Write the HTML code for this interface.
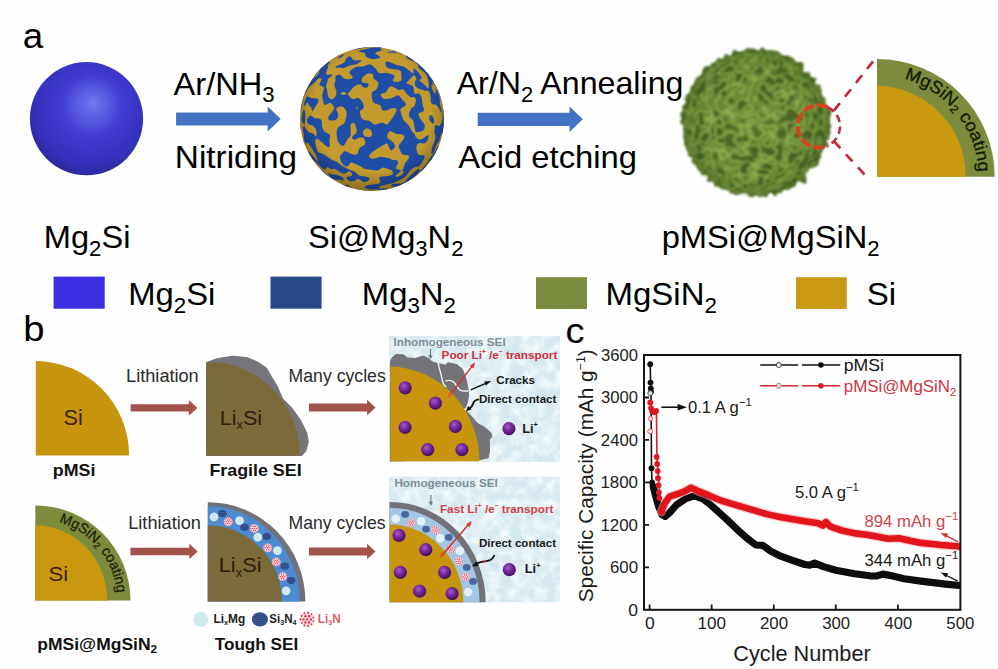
<!DOCTYPE html>
<html lang="en"><head><meta charset="utf-8"><title>pMSi@MgSiN2 figure</title>
<style>
html,body{margin:0;padding:0;background:#fff;}
body{width:998px;height:669px;overflow:hidden;}
svg{display:block;}
text{font-family:"Liberation Sans",sans-serif;}
</style></head><body>
<svg width="998" height="669" viewBox="0 0 998 669">
<rect width="998" height="669" fill="#fefefe"/>

<defs>
<radialGradient id="gBlue" cx="0.53" cy="0.42" r="0.6" fx="0.56" fy="0.36">
  <stop offset="0" stop-color="#7678ee"/>
  <stop offset="0.16" stop-color="#6163e6"/>
  <stop offset="0.45" stop-color="#413cd3"/>
  <stop offset="0.82" stop-color="#3431bd"/>
  <stop offset="1" stop-color="#2a2896"/>
</radialGradient>
<radialGradient id="gShade" cx="0.5" cy="0.45" r="0.55">
  <stop offset="0" stop-color="#000" stop-opacity="0"/>
  <stop offset="0.75" stop-color="#000" stop-opacity="0"/>
  <stop offset="1" stop-color="#000" stop-opacity="0.28"/>
</radialGradient>
<radialGradient id="gShadeG" gradientUnits="userSpaceOnUse" cx="0" cy="0" r="75">
  <stop offset="0" stop-color="#9fbf4a" stop-opacity="0.25"/>
  <stop offset="0.6" stop-color="#5d7a2a" stop-opacity="0"/>
  <stop offset="1" stop-color="#2a3f10" stop-opacity="0.35"/>
</radialGradient>
<radialGradient id="gLi" cx="0.4" cy="0.35" r="0.65">
  <stop offset="0" stop-color="#a45cc8"/>
  <stop offset="0.45" stop-color="#7a2aa0"/>
  <stop offset="1" stop-color="#43105f"/>
</radialGradient>
<filter id="fBlob" x="0" y="0" width="1" height="1" color-interpolation-filters="sRGB">
  <feTurbulence type="fractalNoise" baseFrequency="0.042" numOctaves="2" seed="11"/>
  <feColorMatrix type="matrix" values="1 0 0 0 0  1 0 0 0 0  1 0 0 0 0  0 0 0 0 1"/>
  <feComponentTransfer>
    <feFuncR type="discrete" tableValues="0.12 0.12 0.78 0.78"/>
    <feFuncG type="discrete" tableValues="0.31 0.31 0.60 0.60"/>
    <feFuncB type="discrete" tableValues="0.65 0.65 0.17 0.17"/>
  </feComponentTransfer>
  <feComposite in2="SourceGraphic" operator="in"/>
</filter>
<filter id="fGreen" x="-0.05" y="-0.05" width="1.1" height="1.1" color-interpolation-filters="sRGB">
  <feTurbulence type="turbulence" baseFrequency="0.085" numOctaves="2" seed="5" result="n"/>
  <feColorMatrix in="n" type="matrix" values="1 0 0 0 0  1 0 0 0 0  1 0 0 0 0  0 0 0 0 1"/>
  <feComponentTransfer result="c">
    <feFuncR type="table" tableValues="0.56 0.44 0.30 0.20 0.16"/>
    <feFuncG type="table" tableValues="0.68 0.57 0.42 0.30 0.24"/>
    <feFuncB type="table" tableValues="0.24 0.19 0.13 0.09 0.07"/>
  </feComponentTransfer>
  <feTurbulence type="fractalNoise" baseFrequency="0.16" numOctaves="2" seed="9" result="d"/>
  <feDisplacementMap in="SourceGraphic" in2="d" scale="7" xChannelSelector="R" yChannelSelector="G" result="shape"/>
  <feComposite in="c" in2="shape" operator="in"/>
</filter>
<filter id="fSoft" x="-0.05" y="-0.05" width="1.1" height="1.1"><feGaussianBlur stdDeviation="0.9"/></filter>
<filter id="fRough" x="-0.1" y="-0.1" width="1.2" height="1.2">
  <feTurbulence type="fractalNoise" baseFrequency="0.09" numOctaves="2" seed="4" result="d"/>
  <feDisplacementMap in="SourceGraphic" in2="d" scale="5" xChannelSelector="R" yChannelSelector="G"/>
</filter>
<filter id="fIce" x="0" y="0" width="1" height="1" color-interpolation-filters="sRGB">
  <feTurbulence type="fractalNoise" baseFrequency="0.09" numOctaves="3" seed="2"/>
  <feColorMatrix type="matrix" values="0 0 0 0 0.96  0 0 0 0 0.985  0 0 0 0 0.985  2.2 0 0 0 -0.78"/>
  <feComposite in2="SourceGraphic" operator="in"/>
</filter>
<pattern id="pRed" width="2.4" height="2.4" patternUnits="userSpaceOnUse">
  <rect width="2.4" height="2.4" fill="#fde9ec"/>
  <circle cx="0.6" cy="0.6" r="0.68" fill="#e0364e"/>
  <circle cx="1.8" cy="1.8" r="0.68" fill="#e0364e"/>
</pattern>
<pattern id="pNavy" width="2" height="1.8" patternUnits="userSpaceOnUse">
  <rect width="2" height="1.8" fill="#2a437c"/>
  <rect y="0.9" width="2" height="0.5" fill="#4f6fb0"/>
</pattern>
<g id="liN"><circle r="4.4" fill="#fdeaee"/><circle r="0.72" fill="#e0364e"/><circle cx="2.10" cy="0.00" r="0.72" fill="#e0364e"/><circle cx="1.05" cy="1.82" r="0.72" fill="#e0364e"/><circle cx="-1.05" cy="1.82" r="0.72" fill="#e0364e"/><circle cx="-2.10" cy="0.00" r="0.72" fill="#e0364e"/><circle cx="-1.05" cy="-1.82" r="0.72" fill="#e0364e"/><circle cx="1.05" cy="-1.82" r="0.72" fill="#e0364e"/><circle cx="3.60" cy="1.04" r="0.62" fill="#e2485c"/><circle cx="2.47" cy="2.82" r="0.62" fill="#e2485c"/><circle cx="0.55" cy="3.71" r="0.62" fill="#e2485c"/><circle cx="-1.54" cy="3.42" r="0.62" fill="#e2485c"/><circle cx="-3.14" cy="2.05" r="0.62" fill="#e2485c"/><circle cx="-3.75" cy="0.02" r="0.62" fill="#e2485c"/><circle cx="-3.17" cy="-2.01" r="0.62" fill="#e2485c"/><circle cx="-1.58" cy="-3.40" r="0.62" fill="#e2485c"/><circle cx="0.51" cy="-3.71" r="0.62" fill="#e2485c"/><circle cx="2.44" cy="-2.85" r="0.62" fill="#e2485c"/><circle cx="3.59" cy="-1.08" r="0.62" fill="#e2485c"/></g>
<clipPath id="clipS"><circle cx="0" cy="0" r="72"/></clipPath>
<clipPath id="clipB1"><rect x="389" y="336" width="171" height="126"/></clipPath>
<clipPath id="clipB2"><rect x="389" y="476.5" width="171" height="126"/></clipPath>
<clipPath id="clipPlot"><rect x="644" y="355" width="317" height="255"/></clipPath>
</defs>
<!-- ================= panel a ================= -->
<g id="panel-a">
<text transform="translate(22.74,47.50) scale(1.0364,1)" font-size="35.50" fill="#000">a</text>
<circle cx="86.5" cy="118.7" r="56.6" fill="url(#gBlue)"/>
<text transform="translate(173.54,94.50) scale(1.0379,1)" font-size="31.40" fill="#000">Ar/NH<tspan dy="7.85" font-size="21.35">3</tspan></text>
<polygon points="176.1,112.5 267.7,112.5 267.7,106.6 280.8,119.0 267.7,131.4 267.7,125.5 176.1,125.5" fill="#4472c4"/>
<text transform="translate(174.86,168.20) scale(1.0626,1)" font-size="31.40" fill="#000">Nitriding</text>
<circle cx="372" cy="119" r="72" fill="#c39a2e"/>
<path transform="translate(372,119)" clip-path="url(#clipS)" fill="#1f4ea6" fill-rule="evenodd" d="M-22.2 -68.5L-22.8 -68.5L-22.6 -69.0L-20.5 -69.8L-17.8 -69.7L-15.7 -70.2L-14.5 -71.2L-11.8 -71.8L-5.5 -72.5L-0.1 -72.5L-0.4 -72.0L-9.6 -71.2L-9.2 -71.0L-12.0 -70.2L-16.2 -69.4L-19.2 -69.4L-22.2 -68.5ZM3.0 -60.0L-1.0 -60.1L-4.6 -61.5L-6.4 -62.8L-6.8 -65.2L-7.5 -66.0L-13.9 -67.5L-12.6 -68.2L-10.0 -69.1L1.0 -71.4L6.4 -71.8L6.1 -72.2L8.0 -72.3L12.3 -71.5L12.5 -71.0L8.5 -71.2L8.2 -70.5L10.2 -68.7L5.8 -67.5L3.4 -66.2L3.3 -65.5L3.6 -65.0L7.6 -62.8L8.2 -61.8L7.1 -60.8L3.0 -60.0ZM31.2 -65.0L23.0 -67.9L19.8 -69.4L19.9 -69.8L20.5 -69.8L25.8 -68.0L31.0 -65.8L31.2 -65.0ZM24.5 -65.9L19.8 -66.5L17.2 -66.1L15.0 -67.2L18.5 -67.2L19.8 -67.8L21.5 -67.8L23.5 -67.1L24.6 -66.2L24.5 -65.9ZM11.8 71.8L11.5 71.2L11.8 71.0L9.2 71.1L6.5 70.5L0.5 70.5L-3.2 70.2L-6.3 69.2L-7.5 68.2L-5.8 66.7L-4.0 65.9L4.0 65.3L7.0 64.4L8.0 63.5L8.4 62.5L7.2 59.2L7.3 58.2L9.2 57.5L16.2 57.1L19.8 56.0L20.8 55.0L21.0 54.0L20.4 52.2L19.5 51.3L12.2 48.5L10.2 48.7L6.8 50.9L4.2 51.5L-7.0 50.0L-8.5 49.5L-11.1 47.5L-19.8 43.4L-21.5 43.8L-23.8 46.9L-25.5 47.6L-28.0 46.4L-30.6 43.5L-31.7 40.2L-32.1 37.5L-31.5 36.2L-28.5 33.0L-27.5 32.3L-26.5 32.2L-19.0 35.5L-17.0 35.8L-15.2 35.5L-14.2 34.5L-13.2 30.5L-12.4 29.0L-11.2 28.1L-8.0 26.6L-7.0 25.5L-6.7 24.5L-6.8 22.5L-7.8 19.7L-8.3 19.0L-9.2 18.5L-11.2 18.5L-13.2 18.8L-17.2 20.8L-18.5 20.5L-19.5 19.5L-19.9 18.2L-19.7 17.5L-16.2 14.6L-15.6 13.2L-15.2 11.2L-16.8 5.2L-17.8 4.2L-19.2 3.9L-20.8 4.5L-21.6 6.0L-21.2 14.8L-21.6 17.2L-24.5 20.3L-27.5 25.7L-28.5 26.7L-29.8 26.8L-31.8 25.5L-33.7 23.5L-34.5 21.5L-35.4 14.8L-35.1 11.2L-34.1 9.0L-33.0 7.6L-28.6 5.0L-27.0 3.2L-25.4 -4.0L-25.5 -7.2L-26.8 -10.0L-28.8 -12.1L-30.8 -12.7L-33.2 -12.2L-34.8 -11.2L-35.8 -10.0L-35.8 -9.2L-34.2 -6.0L-33.8 -4.2L-34.0 -2.0L-34.8 -0.5L-36.5 0.9L-39.0 1.6L-41.8 1.6L-43.3 0.8L-43.9 -1.0L-43.2 -3.0L-37.6 -10.2L-39.0 -13.8L-40.8 -15.8L-42.2 -15.9L-46.8 -14.1L-47.8 -14.5L-48.4 -15.2L-49.9 -23.0L-49.5 -25.2L-47.9 -31.0L-48.5 -32.0L-52.3 -33.8L-52.7 -34.5L-50.7 -39.0L-50.4 -40.0L-50.8 -40.8L-52.5 -40.9L-54.5 -39.9L-57.2 -36.4L-62.5 -32.2L-65.5 -28.0L-67.2 -24.6L-68.5 -21.0L-71.5 -7.0L-71.8 -7.5L-72.2 -7.3L-71.8 -11.8L-70.3 -18.8L-67.0 -28.2L-66.0 -30.3L-65.5 -30.1L-65.2 -30.5L-59.2 -40.2L-54.8 -43.8L-52.6 -46.8L-52.0 -48.4L-54.0 -46.9L-57.5 -42.8L-57.3 -44.8L-53.3 -49.5L-50.0 -52.8L-44.5 -57.5L-34.5 -64.0L-29.8 -66.3L-29.8 -65.5L-37.0 -61.9L-42.5 -58.0L-43.0 -57.5L-42.0 -57.1L-42.0 -56.8L-44.5 -53.2L-44.0 -52.3L-44.0 -51.5L-45.9 -46.8L-46.0 -45.0L-44.8 -44.3L-40.8 -44.5L-39.7 -44.0L-40.1 -43.2L-42.5 -41.5L-44.1 -39.8L-46.0 -32.2L-44.9 -29.2L-44.1 -23.0L-42.8 -21.0L-41.1 -19.8L-39.8 -19.7L-37.8 -21.1L-36.2 -23.2L-35.6 -25.0L-35.8 -28.8L-37.9 -33.8L-36.4 -38.8L-36.7 -41.8L-36.4 -43.0L-34.6 -44.0L-32.5 -44.3L-31.5 -44.0L-28.5 -40.9L-26.5 -40.0L-23.5 -39.7L-20.7 -40.2L-19.6 -41.0L-19.2 -42.0L-19.6 -42.8L-22.0 -44.9L-22.4 -45.8L-22.4 -47.0L-21.6 -48.2L-19.5 -50.0L-17.2 -51.4L-15.2 -52.2L-8.2 -52.4L-4.0 -54.5L-2.0 -54.7L0.0 -53.7L2.0 -52.0L3.9 -50.0L6.0 -46.8L7.0 -46.1L9.2 -45.7L14.2 -46.2L19.5 -44.9L21.8 -43.9L22.5 -42.8L22.4 -41.8L20.7 -38.8L21.5 -37.5L24.5 -36.9L26.5 -37.3L29.0 -38.2L29.6 -39.5L29.2 -46.2L28.8 -47.6L27.8 -48.5L26.2 -49.2L19.5 -50.0L15.2 -51.2L13.9 -53.0L13.2 -55.5L13.7 -57.0L15.2 -57.6L17.5 -57.1L24.5 -53.9L30.5 -52.8L32.5 -52.1L41.2 -45.6L41.6 -46.5L41.4 -50.2L42.0 -50.4L43.0 -49.9L46.6 -46.5L49.6 -41.5L49.8 -40.5L49.5 -39.9L47.2 -39.3L47.2 -38.8L52.8 -34.0L55.8 -30.8L56.5 -30.6L56.9 -32.0L56.8 -36.0L55.4 -42.0L54.5 -44.0L52.0 -46.9L46.6 -51.0L46.0 -52.2L46.3 -53.8L45.0 -55.2L42.0 -57.6L37.8 -59.2L35.5 -60.5L34.2 -61.8L33.7 -62.8L35.5 -62.5L33.1 -64.0L33.5 -64.2L34.5 -64.0L38.8 -61.5L40.5 -60.2L41.2 -59.0L44.0 -56.9L47.2 -55.3L55.3 -47.2L61.5 -38.8L62.5 -37.0L62.2 -36.2L64.5 -32.0L65.3 -32.0L68.0 -25.8L69.8 -20.5L71.8 -11.8L72.5 -5.5L72.5 -1.5L72.0 -3.2L71.9 -5.8L71.6 -6.0L70.7 -14.2L69.1 -20.2L65.2 -29.7L63.1 -33.8L60.8 -37.1L60.5 -37.3L60.3 -37.0L60.8 -34.0L59.5 -33.4L59.5 -32.0L60.8 -28.5L62.2 -25.9L63.0 -25.4L63.5 -25.8L63.8 -29.5L65.0 -28.2L66.5 -25.0L67.8 -20.5L67.7 -16.5L68.0 -14.2L69.6 -9.2L69.6 -7.2L69.2 -6.3L68.5 -7.0L66.8 -11.2L65.0 -13.5L63.5 -14.4L60.5 -14.8L59.1 -16.2L58.7 -18.0L58.5 -23.5L57.8 -26.0L56.8 -27.8L56.0 -28.2L53.0 -28.2L47.0 -30.2L45.2 -31.2L43.5 -32.8L42.9 -34.2L42.9 -36.2L43.4 -38.5L44.6 -40.2L43.5 -42.2L41.8 -44.4L41.1 -43.0L38.8 -41.1L34.9 -36.8L34.4 -35.8L38.9 -34.0L41.1 -32.5L41.6 -31.2L42.0 -27.2L42.9 -25.2L43.8 -25.0L46.2 -25.8L47.5 -25.1L48.6 -23.8L49.8 -21.0L50.4 -15.2L51.9 -10.2L52.0 -9.0L51.5 -7.7L50.2 -6.9L47.2 -6.1L46.6 -5.2L46.5 -4.2L47.7 -1.0L52.6 5.5L52.9 7.2L52.5 9.2L51.5 11.1L50.0 12.3L44.5 13.3L43.3 12.5L41.4 2.0L40.6 0.8L37.6 -1.8L36.9 -4.0L37.3 -6.5L38.8 -9.7L39.5 -10.9L42.0 -12.2L43.0 -13.9L44.0 -18.2L43.6 -20.2L42.8 -21.6L42.0 -22.0L39.0 -21.7L37.8 -22.2L35.3 -24.5L31.5 -29.5L30.5 -29.7L27.5 -29.0L26.5 -29.1L21.5 -31.9L19.2 -32.6L18.2 -32.5L17.2 -32.0L14.2 -26.9L12.2 -26.0L9.6 -25.5L8.8 -24.8L8.7 -23.5L10.0 -21.5L11.4 -20.5L13.2 -20.0L18.5 -20.4L25.5 -23.7L26.5 -23.6L27.5 -22.9L30.4 -19.2L33.2 -16.5L34.0 -15.2L34.0 -14.2L33.2 -13.2L29.3 -10.8L28.2 -9.2L28.3 -8.2L31.0 0.2L32.0 1.8L36.8 6.5L40.2 12.8L42.3 14.8L43.7 18.0L46.0 20.1L48.0 20.7L50.0 20.0L55.5 16.3L56.5 16.2L56.8 17.1L55.6 21.2L53.8 23.8L52.2 24.4L47.2 24.1L45.8 25.0L44.5 26.8L44.4 29.5L45.8 35.3L47.0 36.1L51.5 36.2L52.6 37.2L52.5 38.5L51.7 40.8L48.2 46.1L46.5 47.6L43.0 48.1L40.3 49.8L38.4 51.5L33.9 57.0L30.5 59.8L21.2 63.9L9.5 66.8L7.1 68.0L7.0 69.0L8.5 69.7L13.5 69.5L16.2 69.8L19.8 69.2L20.9 69.5L16.8 70.8L11.8 71.8ZM-34.5 -60.5L-34.5 -61.0L-32.7 -62.5L-30.2 -63.9L-28.0 -64.7L-28.6 -63.5L-30.0 -62.2L-31.9 -61.2L-34.5 -60.5ZM-28.0 -50.9L-29.5 -50.8L-32.8 -51.4L-36.0 -51.1L-36.6 -51.5L-36.3 -52.2L-35.0 -53.2L-30.5 -55.0L-28.3 -56.2L-27.0 -57.6L-25.7 -60.8L-24.5 -61.7L-23.0 -62.4L-21.9 -62.5L-21.0 -62.2L-19.3 -59.5L-18.0 -58.8L-15.2 -58.6L-11.2 -58.9L-10.4 -58.5L-11.6 -57.2L-15.5 -54.8L-22.5 -53.4L-28.0 -50.9ZM15.4 5.5L20.8 -1.6L24.1 -7.2L24.7 -9.2L23.5 -10.7L21.5 -11.1L19.5 -10.7L14.5 -8.5L11.2 -8.6L9.9 -9.5L9.0 -12.5L8.2 -13.8L7.2 -14.3L3.0 -15.5L1.4 -16.8L0.6 -18.2L-0.0 -20.8L-0.5 -24.2L-0.3 -26.0L0.7 -27.5L3.9 -29.0L4.8 -29.9L6.1 -33.5L6.4 -35.8L5.2 -37.8L1.4 -40.5L1.3 -44.0L0.7 -45.0L-2.0 -45.8L-4.9 -45.2L-6.8 -44.1L-9.4 -41.5L-10.2 -40.0L-10.4 -38.8L-10.1 -37.2L-9.5 -36.4L-4.0 -35.7L-3.5 -34.8L-3.5 -33.8L-4.2 -32.1L-5.2 -31.4L-7.2 -31.2L-9.0 -32.1L-11.2 -34.6L-13.2 -34.6L-15.2 -34.1L-18.5 -31.9L-22.5 -27.1L-24.3 -25.5L-24.1 -24.5L-21.5 -21.5L-19.5 -20.0L-18.2 -19.8L-15.2 -21.0L-13.5 -20.9L-11.8 -20.0L-10.2 -18.1L-8.2 -13.3L-8.2 -11.4L-9.2 -10.0L-11.7 -8.2L-12.1 -7.0L-11.1 -2.0L-9.8 0.1L-7.2 1.2L-2.6 1.8L1.0 4.8L2.2 5.4L4.0 5.4L9.2 3.8L11.2 4.1L14.2 5.5L15.4 5.5ZM-27.4 -24.2L-25.3 -25.5L-26.8 -26.5L-28.5 -26.9L-30.4 -26.5L-31.2 -25.5L-30.9 -24.5L-30.2 -24.2L-27.4 -24.2ZM-59.5 -7.7L-60.1 -8.2L-60.6 -11.2L-62.7 -13.2L-64.2 -16.4L-65.5 -16.0L-67.5 -13.0L-68.0 -12.8L-68.1 -15.0L-67.2 -18.1L-66.0 -21.3L-64.8 -22.8L-60.8 -21.0L-55.0 -20.4L-54.1 -20.0L-53.5 -19.2L-53.7 -17.5L-54.7 -15.2L-59.5 -7.7ZM-14.2 -10.0L-14.2 -11.3L-15.5 -12.4L-15.8 -11.2L-15.4 -10.2L-14.2 -10.0ZM-67.5 5.8L-67.8 5.9L-69.8 3.1L-70.4 0.0L-69.8 -5.4L-68.8 -8.5L-68.0 -9.7L-67.1 -8.0L-66.7 -5.2L-66.8 2.0L-67.5 5.8ZM60.2 34.8L59.5 34.8L59.3 34.2L59.7 30.0L62.8 21.5L63.4 18.5L63.3 16.8L62.3 13.2L63.0 7.6L63.5 6.3L64.0 5.9L64.8 6.0L66.5 7.2L67.5 7.1L70.0 3.0L70.5 0.5L70.6 -7.0L71.0 -7.9L71.8 -0.2L71.8 5.4L72.5 2.6L72.3 8.0L71.3 14.5L71.0 15.5L70.5 15.4L70.5 12.6L69.6 14.2L67.2 21.8L64.5 25.5L62.1 32.0L60.9 34.2L60.2 34.8ZM61.2 4.5L60.5 4.5L59.8 4.1L57.4 1.0L57.1 -2.0L57.7 -3.2L58.5 -3.9L59.5 -3.8L60.5 -3.0L61.9 0.0L62.2 3.0L61.9 4.0L61.2 4.5ZM-6.8 63.0L-9.2 62.7L-12.2 60.6L-14.2 59.9L-15.2 60.1L-16.7 61.5L-18.0 62.1L-20.5 62.4L-22.5 62.2L-24.7 60.5L-25.7 58.5L-25.0 57.8L-21.3 57.2L-20.0 56.5L-19.9 54.8L-21.5 52.7L-22.5 52.3L-23.5 52.5L-26.8 54.6L-28.5 54.7L-30.5 53.9L-36.8 50.1L-38.0 49.7L-39.8 50.3L-40.8 50.3L-44.8 47.9L-46.4 50.2L-47.8 50.5L-50.2 49.0L-55.1 43.8L-59.0 40.9L-62.9 35.2L-63.8 32.8L-63.8 31.6L-54.8 41.9L-54.2 42.3L-53.9 42.0L-56.4 35.5L-61.8 26.5L-64.5 23.6L-65.0 23.6L-66.0 25.1L-67.0 23.6L-68.0 20.2L-68.2 15.2L-69.4 9.2L-69.2 7.8L-68.2 7.4L-67.8 6.8L-65.6 10.8L-63.7 12.8L-62.2 13.6L-59.0 14.6L-56.0 17.5L-55.5 17.0L-55.3 13.2L-55.8 11.1L-56.6 9.2L-59.5 6.4L-63.4 5.2L-64.8 3.2L-65.0 2.0L-64.7 0.0L-63.0 -2.6L-61.2 -3.6L-60.5 -3.6L-59.0 -1.9L-57.8 -1.1L-53.0 -0.4L-51.0 0.5L-50.2 2.0L-50.1 7.0L-48.9 10.5L-47.1 12.8L-42.8 15.2L-41.9 16.5L-41.8 18.2L-42.5 21.2L-42.2 26.5L-42.5 27.8L-43.2 28.2L-44.8 27.8L-46.0 27.0L-49.8 23.5L-55.0 19.5L-55.5 19.4L-55.9 19.8L-56.7 22.2L-56.7 24.5L-54.2 33.0L-53.2 33.6L-50.0 34.4L-47.8 35.5L-40.8 40.4L-34.8 43.1L-29.8 47.0L-25.8 49.0L-22.2 51.1L-19.2 51.8L-17.5 52.5L-14.6 55.2L-12.8 56.5L-11.2 57.0L-6.0 57.5L-3.0 58.8L-2.5 60.0L-3.2 61.2L-5.0 62.5L-6.8 63.0ZM-71.5 12.8L-72.5 5.5L-72.5 3.1L-72.0 3.0L-70.9 11.8L-71.0 12.6L-71.5 12.8ZM-2.2 18.0L-1.0 17.6L-0.1 16.2L0.0 14.2L-0.8 11.8L-2.0 10.5L-4.0 9.6L-6.0 9.6L-7.2 10.1L-8.4 11.2L-9.0 13.2L-8.8 15.1L-8.0 16.8L-6.2 17.8L-2.2 18.0ZM26.0 57.8L29.5 56.1L31.6 54.0L31.6 53.0L30.1 51.5L31.8 48.9L33.1 44.0L36.5 39.8L37.1 37.5L36.8 36.8L36.0 36.3L32.2 35.9L30.2 35.2L29.4 34.2L26.6 28.0L26.7 26.8L27.2 25.8L32.1 19.2L32.5 18.0L32.1 16.8L30.2 15.6L23.8 14.7L19.5 12.4L18.2 12.1L17.2 12.5L16.2 13.9L15.3 16.0L15.2 18.0L16.2 19.8L19.5 21.7L22.7 25.5L23.2 27.5L22.0 29.5L20.2 31.1L19.5 31.3L18.5 30.9L17.5 29.5L15.5 24.8L14.2 24.4L8.2 27.7L0.3 33.0L-2.3 35.8L-2.9 36.8L-3.0 37.8L-1.9 39.0L1.0 39.8L3.0 39.6L7.2 37.9L9.2 37.7L17.2 39.2L21.0 40.9L24.2 41.0L25.2 41.4L25.9 42.5L26.0 44.0L24.0 49.0L25.0 50.0L28.1 51.2L29.0 52.0L24.6 55.5L23.8 56.5L23.7 57.2L24.2 57.8L26.0 57.8ZM-67.5 27.0L-69.8 20.5L-69.8 19.6L-69.0 20.2L-68.4 22.0L-67.2 25.8L-67.5 27.0ZM48.2 52.8L48.7 51.8L54.0 45.2L60.8 35.2L63.0 32.5L67.0 25.4L66.0 29.0L66.0 30.5L63.0 36.2L59.5 41.8L58.8 42.5L58.2 41.3L58.0 41.6L52.5 48.9L49.8 51.8L48.2 52.8ZM-40.2 60.0L-41.0 59.9L-42.5 59.0L-49.5 53.3L-50.0 52.7L-49.5 52.5L-51.0 50.2L-51.0 49.8L-45.7 55.2L-40.2 60.0ZM25.8 68.0L25.3 68.0L24.9 67.5L23.0 67.8L19.4 67.2L18.9 66.8L20.0 65.5L21.5 64.7L28.8 64.6L31.8 63.8L33.5 62.3L37.2 57.7L42.8 52.5L46.0 50.1L47.0 49.9L47.9 50.2L47.8 51.2L47.0 52.8L43.8 56.8L41.7 58.8L42.2 59.0L41.8 59.5L34.5 64.0L25.8 68.0ZM-29.0 61.5L-34.2 60.4L-36.0 61.1L-38.5 60.1L-40.8 58.9L-41.8 57.9L-43.4 55.8L-43.8 54.5L-43.2 54.3L-39.8 55.4L-35.8 55.8L-31.2 57.2L-29.5 58.2L-28.7 59.2L-28.1 61.0L-29.0 61.5ZM-33.5 64.0L-36.2 63.0L-38.1 61.8L-38.6 61.0L-33.5 64.0ZM-20.2 69.8L-28.2 67.0L-32.0 65.3L-32.0 64.5L-29.8 65.6L-26.8 66.5L-26.5 65.7L-24.0 65.7L-23.3 66.2L-23.3 67.5L-18.9 69.2L-20.2 69.8ZM-18.2 69.5L-18.9 69.5L-18.2 69.5ZM3.8 72.5L-5.5 72.6L-10.0 72.1L-14.5 71.3L-17.2 69.8L-3.5 71.8L2.9 72.0L3.8 72.5Z"/>
<circle cx="372" cy="119" r="72" fill="url(#gShade)"/>
<text transform="translate(456.64,94.40) scale(1.0249,1)" font-size="31.40" fill="#000">Ar/N<tspan dy="7.85" font-size="21.35">2</tspan><tspan dy="-7.85"> Annealing</tspan></text>
<polygon points="477.7,112.7 569.5,112.7 569.5,106.6 582.8,119.3 569.5,132.0 569.5,125.9 477.7,125.9" fill="#4472c4"/>
<text transform="translate(458.34,167.80) scale(1.0451,1)" font-size="31.40" fill="#000">Acid etching</text>
<g transform="translate(755.4,122.7)" filter="url(#fSoft)">
<path fill="#6a8a38" d="M74.2 0.0L75.7 2.2L75.6 4.3L74.8 6.4L74.8 8.6L75.4 10.8L73.6 12.7L74.4 15.1L72.9 17.0L70.5 18.5L73.0 21.4L73.3 23.8L69.2 24.7L67.5 26.3L67.2 28.4L66.2 30.2L65.2 32.0L66.1 34.9L64.3 36.3L63.5 38.3L63.7 40.9L62.3 42.6L60.5 44.0L58.2 44.9L55.7 45.6L53.5 46.3L52.7 48.3L51.1 49.6L49.5 50.9L51.0 55.5L51.2 59.1L50.1 61.3L45.7 59.2L42.4 58.3L41.1 60.2L40.5 63.0L38.8 64.4L36.6 64.8L35.0 66.4L32.9 67.0L30.8 67.3L28.3 67.1L26.9 69.1L25.1 70.5L22.8 70.2L21.2 72.0L19.4 73.7L16.4 70.3L14.1 69.6L12.6 72.7L10.8 74.9L8.4 73.5L6.3 73.7L4.3 74.5L2.1 73.2L0.0 72.9L-2.1 74.4L-4.2 74.3L-6.4 74.4L-8.1 70.4L-10.0 69.6L-12.3 70.9L-14.4 71.2L-16.7 71.8L-19.1 72.6L-21.1 71.9L-23.0 70.6L-25.4 71.1L-26.4 67.9L-28.6 67.6L-30.4 66.6L-32.8 66.7L-34.9 66.1L-36.3 64.2L-38.5 63.9L-41.0 63.8L-41.6 60.9L-42.7 58.8L-45.6 59.1L-48.3 59.0L-48.0 55.4L-47.9 52.2L-51.4 52.9L-53.8 52.2L-54.8 50.3L-55.8 48.3L-57.7 47.2L-58.4 45.0L-59.4 43.2L-61.0 41.7L-62.8 40.3L-64.0 38.6L-63.0 35.6L-64.9 34.2L-67.3 33.1L-67.4 30.8L-67.9 28.7L-69.3 27.0L-69.4 24.8L-70.9 23.1L-71.2 20.9L-71.5 18.8L-71.2 16.6L-72.3 14.6L-71.5 12.4L-70.9 10.2L-71.5 8.2L-72.6 6.2L-71.6 4.1L-72.9 2.1L-75.5 0.0L-74.8 -2.1L-73.7 -4.2L-74.9 -6.4L-75.2 -8.6L-74.0 -10.6L-72.5 -12.5L-73.3 -14.8L-72.8 -16.9L-70.8 -18.6L-69.0 -20.3L-71.0 -23.1L-70.1 -25.0L-69.7 -27.1L-67.8 -28.7L-66.0 -30.1L-65.2 -32.1L-65.0 -34.3L-64.5 -36.4L-62.0 -37.4L-61.8 -39.7L-60.6 -41.4L-59.8 -43.5L-59.0 -45.5L-56.3 -46.0L-54.9 -47.6L-53.5 -49.1L-53.1 -51.6L-52.4 -53.9L-51.1 -55.7L-49.2 -56.7L-46.0 -56.3L-44.8 -58.1L-43.2 -59.5L-41.6 -60.8L-39.4 -61.3L-38.6 -64.0L-36.7 -65.0L-33.6 -63.7L-31.9 -64.8L-31.0 -67.9L-29.0 -68.7L-26.1 -67.0L-24.0 -67.2L-23.0 -70.8L-21.4 -73.1L-18.9 -71.9L-16.4 -70.7L-14.5 -71.4L-12.4 -71.5L-10.5 -73.3L-8.5 -74.5L-6.4 -74.7L-4.3 -74.3L-2.1 -74.1L-0.0 -73.8L2.1 -72.3L4.2 -72.9L6.5 -75.6L8.5 -74.1L10.5 -72.8L12.5 -72.3L14.8 -73.0L16.8 -72.2L19.0 -72.1L21.0 -71.6L23.1 -71.1L24.8 -69.5L26.5 -68.1L28.3 -67.0L30.7 -67.2L32.9 -67.0L35.0 -66.3L36.7 -64.9L38.6 -64.1L39.7 -61.8L41.3 -60.4L44.0 -60.6L46.7 -60.6L48.2 -58.9L48.2 -55.6L47.6 -51.8L49.1 -50.5L52.2 -50.7L54.7 -50.2L54.9 -47.5L54.8 -44.8L58.5 -45.1L61.3 -44.5L59.7 -40.8L59.9 -38.5L63.6 -38.3L65.3 -36.9L65.3 -34.5L66.5 -32.7L66.0 -30.2L66.7 -28.2L67.2 -26.2L69.9 -24.9L69.9 -22.7L70.1 -20.6L70.8 -18.6L71.1 -16.5L73.9 -15.0L75.2 -13.0L76.6 -11.0L75.4 -8.6L75.3 -6.5L74.2 -4.2L75.0 -2.1Z"/>
<path fill="#456427" fill-rule="evenodd" d="M-5.5 -72.5L-7.2 -72.5L-5.5 -72.5ZM3.5 -69.4L-7.5 -70.5L-4.7 -71.5L1.0 -71.3L3.7 -70.5L4.0 -70.0L3.5 -69.4ZM10.0 -69.4L7.0 -70.0L6.8 -71.0L9.8 -70.5L10.3 -70.0L10.0 -69.4ZM-24.5 -66.5L-24.6 -67.0L-21.3 -68.5L-15.5 -70.0L-12.5 -70.0L-12.5 -69.5L-13.7 -69.0L-24.5 -66.5ZM18.5 -68.2L16.2 -68.5L16.0 -69.0L18.5 -69.0L18.9 -68.5L18.5 -68.2ZM-23.5 -68.4L-24.5 -68.1L-24.7 -68.5L-23.5 -68.4ZM-25.0 -67.9L-26.0 -67.5L-26.2 -68.0L-25.0 -67.9ZM-13.0 -65.4L-16.0 -65.0L-16.8 -65.5L-13.5 -66.5L-12.0 -66.0L-13.0 -65.4ZM33.5 -62.9L27.5 -64.7L25.9 -66.0L27.5 -66.7L29.2 -66.5L32.8 -64.5L33.5 -62.9ZM-29.5 -62.9L-31.5 -62.6L-31.6 -63.0L-27.9 -64.0L-29.5 -62.9ZM24.5 -48.8L21.0 -49.0L20.1 -50.5L20.8 -51.5L22.5 -52.4L24.8 -56.5L24.6 -60.5L22.5 -63.1L25.4 -62.0L27.0 -60.0L27.3 -59.0L25.7 -56.0L31.0 -52.5L31.8 -51.5L31.0 -49.6L26.0 -50.8L25.1 -50.5L24.5 -48.8ZM-35.5 -60.5L-35.7 -61.0L-34.4 -62.0L-31.5 -62.5L-35.5 -60.5ZM-20.0 -61.0L-22.4 -61.0L-20.8 -62.5L-17.1 -62.5L-20.0 -61.0ZM20.5 -57.3L19.0 -57.6L18.0 -58.5L16.8 -60.5L17.0 -61.8L19.5 -62.0L21.5 -60.8L21.9 -59.0L21.5 -57.9L20.5 -57.3ZM33.0 -60.6L31.5 -60.9L30.4 -62.0L32.6 -61.5L33.0 -60.6ZM14.0 -59.3L11.5 -60.0L10.7 -61.5L12.0 -61.8L13.5 -61.2L14.4 -60.0L14.0 -59.3ZM-34.0 -55.9L-34.5 -55.8L-34.6 -56.5L-33.5 -57.7L-26.2 -61.0L-26.1 -60.0L-27.0 -59.1L-34.0 -55.9ZM-19.0 -57.8L-20.5 -57.8L-20.6 -58.5L-18.5 -59.1L-18.4 -58.5L-19.0 -57.8ZM-41.5 -57.3L-42.1 -57.5L-40.5 -58.9L-40.2 -58.5L-41.5 -57.3ZM43.0 -56.8L41.0 -56.9L39.1 -58.5L40.7 -58.5L42.7 -57.5L43.0 -56.8ZM-53.0 -49.1L-53.0 -50.0L-50.0 -53.2L-46.5 -56.1L-44.9 -56.5L-45.7 -55.0L-49.0 -51.7L-52.0 -50.3L-53.0 -49.1ZM-29.5 -50.4L-31.5 -50.5L-32.0 -51.0L-26.5 -56.2L-24.5 -56.7L-22.3 -55.0L-22.0 -53.0L-22.9 -52.0L-29.5 -50.4ZM-3.0 -53.9L-4.5 -54.4L-4.0 -55.6L-3.0 -55.7L-1.8 -55.0L-2.0 -54.3L-3.0 -53.9ZM5.0 -48.9L1.0 -48.9L-1.0 -49.6L-1.5 -50.5L-1.0 -51.2L2.5 -52.5L4.0 -55.8L6.1 -55.5L7.5 -54.0L6.8 -50.0L5.0 -48.9ZM-40.5 -50.5L-41.2 -51.0L-40.4 -52.0L-37.0 -54.0L-36.1 -54.0L-37.5 -52.0L-40.5 -50.5ZM47.5 -52.7L45.6 -53.5L46.0 -53.9L47.0 -53.5L47.8 -53.0L47.5 -52.7ZM19.5 -47.4L18.5 -47.5L17.6 -48.5L17.1 -51.0L17.5 -52.0L19.0 -52.0L19.4 -51.0L18.4 -50.0L20.0 -48.6L19.5 -47.4ZM52.0 -43.9L46.8 -46.0L45.0 -48.4L45.0 -50.2L51.0 -46.1L52.0 -43.9ZM52.5 -46.5L49.3 -49.5L51.0 -49.1L52.4 -48.0L53.0 -47.0L52.5 -46.5ZM-56.5 -45.3L-56.7 -46.0L-53.1 -49.0L-56.5 -45.3ZM-17.5 -41.4L-19.0 -41.4L-19.9 -42.5L-18.8 -48.0L-17.0 -48.9L-13.7 -48.5L-13.2 -47.5L-13.8 -46.0L-15.5 -43.0L-17.5 -41.4ZM39.5 -41.2L34.5 -41.8L29.1 -45.5L27.9 -47.0L31.0 -48.9L34.5 -47.6L37.8 -45.0L39.5 -41.2ZM41.5 -47.3L40.1 -48.0L40.5 -48.9L41.8 -48.0L41.5 -47.3ZM-53.0 -45.0L-53.7 -45.0L-53.3 -46.0L-51.0 -47.4L-51.0 -46.5L-53.0 -45.0ZM-37.0 -38.9L-38.0 -38.6L-40.0 -39.6L-42.7 -40.0L-41.3 -43.0L-41.8 -45.0L-40.0 -47.0L-37.0 -47.2L-34.6 -46.5L-38.0 -44.8L-40.0 -43.0L-39.4 -41.5L-36.5 -40.7L-37.0 -38.9ZM58.0 -39.6L55.0 -42.4L54.1 -46.5L54.5 -46.9L58.2 -44.0L58.0 -39.6ZM18.5 -38.0L15.5 -37.7L11.5 -40.7L7.6 -42.0L11.1 -42.5L11.8 -43.5L11.9 -45.5L13.0 -46.1L19.5 -41.6L20.5 -41.8L21.9 -44.0L23.5 -45.0L25.5 -44.7L28.0 -42.5L28.3 -41.0L27.5 -39.5L25.5 -39.2L21.0 -40.5L18.5 -38.0ZM-10.5 -40.4L-11.5 -40.4L-12.0 -41.0L-11.9 -43.0L-11.2 -45.0L-10.0 -45.6L-9.1 -45.0L-9.2 -42.0L-9.4 -41.0L-10.5 -40.4ZM44.0 -42.0L43.2 -42.5L43.5 -43.3L44.4 -43.0L44.0 -42.0ZM-57.0 -26.4L-58.0 -26.3L-59.6 -28.0L-59.6 -31.0L-56.6 -34.5L-53.0 -40.3L-50.5 -42.5L-50.0 -42.0L-50.0 -36.5L-51.0 -31.9L-52.0 -30.9L-54.7 -30.0L-57.0 -26.4ZM-39.5 -28.0L-41.0 -28.2L-41.4 -29.0L-41.0 -35.1L-40.0 -35.7L-36.5 -35.6L-32.5 -40.7L-30.5 -40.9L-29.4 -39.5L-30.5 -36.0L-32.0 -34.7L-35.5 -33.3L-37.5 -29.5L-39.5 -28.0ZM43.0 -39.0L41.0 -40.0L40.7 -41.0L43.0 -40.9L43.0 -39.0ZM54.0 -32.5L51.0 -35.1L47.5 -36.3L46.9 -37.5L47.3 -39.0L50.5 -40.4L52.0 -39.6L53.7 -36.0L54.0 -32.5ZM-63.5 -32.8L-63.0 -36.3L-60.8 -38.5L-63.5 -32.8ZM17.5 -22.8L12.3 -26.5L9.9 -29.5L5.1 -32.5L4.7 -34.5L6.1 -37.5L8.0 -38.1L10.0 -37.2L12.0 -30.8L15.5 -29.7L16.5 -28.9L18.0 -24.5L18.1 -23.5L17.5 -22.8ZM42.0 -34.0L38.0 -34.5L37.3 -35.5L37.5 -37.2L39.0 -37.5L41.5 -36.0L42.7 -34.5L42.0 -34.0ZM-62.5 -30.4L-62.0 -33.3L-60.0 -37.1L-59.7 -36.5L-60.7 -32.5L-62.5 -30.4ZM23.0 -32.8L21.5 -32.5L20.2 -33.5L20.9 -34.5L23.5 -35.8L24.2 -35.0L23.0 -32.8ZM-30.5 -26.4L-31.5 -26.6L-33.7 -28.5L-33.4 -30.5L-31.5 -31.6L-29.5 -31.0L-28.6 -29.5L-29.5 -27.4L-30.5 -26.4ZM61.0 -18.0L60.0 -18.8L58.9 -21.5L59.0 -27.5L57.7 -30.0L58.0 -31.1L59.0 -29.9L59.5 -27.5L62.0 -23.0L62.0 -19.5L61.0 -18.0ZM12.5 -18.3L10.5 -18.4L7.9 -21.0L4.0 -22.1L2.5 -27.5L2.9 -29.0L5.0 -29.2L7.0 -27.9L8.6 -23.5L12.0 -21.7L12.9 -20.5L13.1 -19.0L12.5 -18.3ZM22.5 -26.7L21.5 -27.0L21.5 -27.7L22.9 -27.5L22.5 -26.7ZM41.5 -26.4L40.0 -26.5L41.0 -27.3L41.5 -26.4ZM34.0 -18.0L32.0 -18.2L31.4 -19.5L32.5 -21.1L34.3 -22.0L34.6 -26.0L36.5 -26.7L38.9 -26.0L39.3 -25.5L38.3 -23.5L35.5 -21.5L35.0 -18.5L34.0 -18.0ZM50.0 -23.8L48.8 -25.5L49.0 -26.9L50.0 -26.9L50.8 -25.5L50.8 -24.5L50.0 -23.8ZM-69.5 -13.9L-70.0 -14.0L-70.2 -15.0L-69.5 -17.9L-66.5 -24.5L-65.5 -25.3L-65.2 -23.5L-66.4 -17.5L-68.0 -14.3L-69.5 -13.9ZM56.0 -19.9L55.0 -20.3L54.0 -21.8L53.6 -24.0L54.0 -25.5L55.0 -25.2L56.3 -23.5L56.7 -21.5L56.0 -19.9ZM-57.0 -21.5L-57.5 -23.0L-57.0 -24.2L-56.5 -24.2L-55.7 -23.5L-55.7 -22.5L-57.0 -21.5ZM-23.0 -19.0L-25.5 -19.4L-26.7 -20.5L-26.8 -22.5L-25.5 -24.1L-24.5 -24.2L-20.7 -22.5L-21.4 -20.0L-23.0 -19.0ZM27.5 -20.5L25.5 -20.2L24.5 -20.8L23.9 -22.5L24.5 -23.5L26.5 -24.2L28.0 -23.5L28.5 -22.3L27.5 -20.5ZM-59.5 -16.5L-61.0 -16.3L-63.1 -17.5L-62.4 -21.5L-61.0 -23.7L-60.0 -23.0L-59.5 -16.5ZM69.0 -20.9L68.5 -23.7L69.4 -21.5L69.0 -20.9ZM-15.0 -12.7L-16.0 -12.8L-17.0 -14.0L-17.6 -18.5L-15.4 -21.5L-13.5 -22.4L-12.0 -22.3L-9.6 -20.5L-9.2 -18.5L-10.6 -16.5L-15.0 -12.7ZM65.5 -7.8L64.5 -7.7L63.5 -8.8L61.7 -12.5L61.8 -14.0L63.4 -17.0L64.0 -21.8L65.6 -19.5L67.5 -11.5L67.4 -10.5L65.5 -7.8ZM1.5 -13.3L0.4 -13.5L0.1 -15.0L1.0 -17.4L2.0 -17.5L2.6 -15.0L1.5 -13.3ZM28.0 -13.4L27.0 -13.2L25.9 -14.0L25.5 -15.0L26.0 -16.0L27.5 -16.4L28.6 -16.0L28.7 -14.5L28.0 -13.4ZM71.0 -14.3L71.0 -16.1L71.0 -14.3ZM-34.5 -14.4L-35.2 -14.5L-35.4 -15.5L-34.7 -15.5L-34.5 -14.4ZM-7.0 -13.5L-8.5 -13.5L-8.0 -14.5L-6.5 -14.9L-6.0 -14.5L-7.0 -13.5ZM71.5 -12.3L71.1 -14.0L71.5 -14.2L71.5 -12.3ZM25.0 0.6L23.0 0.7L22.6 0.0L24.4 -1.5L26.5 -4.9L29.0 -5.9L30.0 -6.8L31.8 -9.5L32.6 -12.5L34.0 -13.6L40.0 -10.9L42.5 -6.2L45.5 -6.5L46.9 -5.0L46.4 -3.0L45.0 -2.0L41.5 -4.2L37.0 -1.9L29.5 -2.1L25.0 0.6ZM-39.0 -6.5L-40.5 -7.0L-41.2 -8.5L-41.0 -10.5L-40.0 -11.8L-38.0 -11.2L-36.5 -9.0L-37.1 -7.5L-39.0 -6.5ZM-72.5 -0.7L-72.5 -5.3L-71.5 -9.2L-70.5 -10.3L-69.9 -9.5L-69.9 -7.5L-71.0 -3.0L-72.5 -0.7ZM-53.0 2.1L-55.0 2.2L-56.3 0.0L-55.5 -5.0L-56.2 -8.5L-55.5 -9.7L-54.5 -10.1L-53.3 -9.5L-52.7 -8.0L-52.7 -5.0L-51.7 0.0L-51.8 1.0L-53.0 2.1ZM8.0 -5.8L6.3 -6.0L5.0 -6.9L4.4 -8.0L4.6 -9.5L6.0 -9.5L7.7 -8.0L8.6 -6.5L8.0 -5.8ZM51.0 -5.4L50.0 -6.2L49.2 -9.0L52.5 -9.6L53.4 -8.0L51.0 -5.4ZM62.0 -3.0L60.5 -2.7L58.0 -5.0L57.2 -8.0L57.9 -9.5L60.0 -9.9L62.0 -7.9L62.8 -5.5L62.0 -3.0ZM0.0 -5.0L-1.6 -5.5L-2.0 -6.4L-1.0 -7.0L0.0 -6.4L0.0 -5.0ZM-64.5 -0.8L-65.0 -1.0L-65.3 -3.0L-64.5 -6.6L-64.0 -6.5L-63.5 -4.0L-64.5 -0.8ZM-29.0 -2.4L-30.5 -2.2L-31.3 -3.0L-31.6 -4.0L-31.0 -5.0L-30.0 -5.2L-28.8 -4.5L-28.5 -3.1L-29.0 -2.4ZM66.0 2.2L64.0 1.6L63.5 1.0L64.0 -2.0L65.5 -3.9L66.3 -3.0L66.8 -1.0L66.8 1.0L66.0 2.2ZM-62.0 1.1L-61.0 -3.4L-60.5 -3.3L-60.4 -2.0L-61.0 0.0L-62.0 1.1ZM-34.5 1.5L-36.5 1.8L-38.0 1.0L-38.2 -1.0L-37.0 -3.0L-36.0 -3.2L-34.7 -2.0L-34.0 0.0L-34.5 1.5ZM-11.5 -0.4L-14.1 -1.0L-16.8 -3.0L-16.0 -3.4L-10.0 -3.0L-9.5 -2.0L-11.5 -0.4ZM15.0 1.0L11.0 1.4L9.3 1.0L8.3 0.0L9.2 -1.0L12.5 -1.7L15.5 -3.0L18.8 -1.0L19.1 0.0L15.0 1.0ZM57.0 6.6L55.5 5.8L54.8 4.0L55.5 1.2L57.0 -0.1L58.4 1.0L58.9 3.0L58.5 5.5L57.0 6.6ZM34.0 9.1L33.4 9.0L32.5 2.5L34.5 1.0L37.6 1.0L38.4 2.0L35.2 5.5L34.0 9.1ZM-18.0 9.2L-19.7 9.0L-22.5 6.3L-29.0 5.7L-29.9 5.0L-29.5 3.0L-27.5 1.1L-23.8 2.0L-17.5 6.3L-17.1 8.0L-18.0 9.2ZM-58.5 16.8L-59.5 16.8L-60.0 16.2L-61.0 12.0L-59.4 8.5L-59.3 3.0L-58.0 1.8L-54.7 7.0L-56.5 11.0L-57.5 15.4L-58.5 16.8ZM70.0 5.2L69.4 3.0L70.0 1.6L70.0 5.2ZM2.5 14.6L1.0 14.9L-0.3 14.0L-3.5 6.5L-3.6 4.5L-2.0 2.9L0.5 2.8L2.4 6.0L6.2 9.5L6.1 11.0L2.5 14.6ZM-42.0 10.9L-43.0 10.6L-44.1 8.0L-44.0 6.9L-42.5 5.0L-42.0 5.3L-41.7 7.5L-42.0 10.9ZM27.5 15.0L23.5 14.8L22.4 13.5L21.6 11.0L21.9 9.5L23.0 8.0L25.5 5.6L27.5 5.0L29.8 6.5L30.5 10.5L30.0 13.5L27.5 15.0ZM-36.5 13.1L-38.2 12.0L-38.6 9.0L-38.0 6.0L-36.5 5.2L-33.8 6.5L-33.0 9.0L-33.7 11.5L-36.5 13.1ZM67.5 16.6L66.7 16.0L66.0 13.1L63.0 12.7L62.0 13.5L60.5 16.2L60.0 16.0L59.6 13.5L60.1 11.0L64.5 6.3L66.5 7.7L67.5 10.6L69.0 10.0L68.6 15.5L67.5 16.6ZM-64.5 11.7L-65.5 11.9L-66.4 11.5L-68.0 9.0L-69.0 9.5L-69.0 7.1L-68.0 8.2L-67.0 6.8L-65.4 7.0L-64.3 9.0L-64.5 11.7ZM72.0 10.0L71.6 8.0L72.0 6.8L72.0 10.0ZM-69.5 21.6L-71.6 14.0L-71.7 11.5L-72.2 11.0L-72.0 7.3L-71.5 8.0L-69.1 19.5L-69.1 21.5L-69.5 21.6ZM54.5 17.1L52.5 14.6L51.5 14.9L49.0 17.0L48.5 16.3L47.1 12.0L51.0 7.2L53.0 7.7L56.0 9.5L56.8 10.5L56.0 14.8L54.5 17.1ZM42.5 15.1L40.0 15.0L38.9 13.5L40.0 11.4L42.5 9.4L43.5 9.8L45.7 12.0L44.7 13.5L42.5 15.1ZM-50.0 18.5L-51.5 18.7L-53.0 18.0L-54.1 16.5L-54.1 15.0L-51.0 11.2L-48.0 10.3L-46.6 11.5L-46.6 13.5L-47.8 16.0L-50.0 18.5ZM-20.5 24.1L-23.5 24.2L-28.5 22.8L-29.4 21.5L-29.8 19.0L-30.5 17.9L-31.0 19.2L-34.5 19.9L-36.5 19.0L-37.0 17.5L-35.5 16.0L-33.5 15.5L-30.5 16.9L-29.5 14.0L-28.0 12.2L-24.5 11.5L-22.5 11.8L-21.6 12.5L-21.4 13.5L-23.4 17.0L-23.6 18.5L-19.8 22.0L-19.6 23.5L-20.5 24.1ZM-42.0 16.0L-43.0 16.4L-43.9 16.0L-42.5 12.5L-41.3 14.5L-41.3 15.5L-42.0 16.0ZM-15.5 19.0L-17.5 18.7L-19.0 17.5L-18.7 16.0L-17.5 14.9L-13.5 15.2L-9.5 12.8L-7.3 14.5L-6.9 16.5L-8.0 17.8L-10.0 18.4L-13.5 18.1L-15.5 19.0ZM65.5 30.4L66.3 25.5L67.8 21.5L68.7 16.5L70.0 15.2L70.0 17.5L68.5 24.5L65.5 30.4ZM-0.5 20.6L-3.2 20.5L-3.7 19.0L-2.7 18.0L-1.0 18.2L0.7 19.5L-0.5 20.6ZM12.5 22.2L11.0 21.7L10.5 20.5L11.4 19.0L13.0 18.4L13.5 19.0L13.6 20.5L12.5 22.2ZM60.5 22.2L60.0 22.4L59.7 20.5L60.0 18.3L60.5 18.2L61.2 20.5L60.5 22.2ZM-52.0 23.1L-53.5 22.5L-54.4 20.5L-53.0 20.4L-51.4 21.5L-51.1 22.5L-52.0 23.1ZM24.0 38.1L21.5 37.1L20.0 35.0L20.4 33.5L23.1 30.0L23.4 28.5L22.8 27.0L20.2 24.5L21.5 22.5L24.5 20.7L25.5 20.9L26.2 22.0L27.2 27.5L26.0 31.5L26.6 36.0L25.5 37.5L24.0 38.1ZM-55.5 27.6L-57.0 26.9L-58.2 25.5L-58.5 23.0L-57.5 21.6L-56.0 22.5L-53.9 25.5L-53.9 26.5L-55.5 27.6ZM16.0 32.6L13.2 32.5L10.0 29.6L7.0 28.7L6.3 26.5L6.5 23.5L11.0 25.4L15.5 25.4L19.4 28.5L19.6 29.5L19.1 30.5L16.0 32.6ZM40.5 26.6L38.0 25.5L37.3 24.5L37.5 23.5L39.0 23.5L40.7 24.5L41.3 25.5L40.5 26.6ZM-2.5 38.8L-4.0 39.0L-9.0 37.6L-13.0 38.0L-17.5 35.8L-22.0 37.0L-23.5 36.0L-24.2 34.0L-22.9 32.5L-20.5 31.7L-14.5 34.5L-9.0 33.6L-3.5 33.7L-3.0 33.0L-3.3 31.5L-5.9 27.5L-6.2 25.5L-5.5 24.5L-4.0 23.9L1.0 23.8L3.1 25.5L3.3 28.0L1.9 31.5L1.5 34.5L-1.4 35.5L-1.8 38.0L-2.5 38.8ZM47.0 45.6L43.0 45.6L42.4 45.0L42.4 44.0L45.5 39.8L49.1 36.5L51.0 29.8L53.1 27.5L55.0 26.4L55.0 27.5L53.3 30.0L52.7 32.0L53.1 33.5L54.4 35.0L51.5 38.9L49.3 44.0L47.0 45.6ZM57.5 34.0L56.0 34.0L55.9 33.5L58.5 28.0L60.0 27.1L61.2 28.5L60.9 30.0L59.5 32.3L57.5 34.0ZM35.0 40.5L33.7 40.0L33.0 35.5L33.5 33.5L35.0 31.1L37.5 30.0L42.0 30.9L46.5 27.6L46.9 28.5L45.9 31.0L42.5 32.9L36.5 39.5L35.0 40.5ZM-55.0 37.1L-57.5 36.7L-59.7 33.5L-59.5 32.6L-58.2 32.0L-57.5 29.1L-52.0 31.4L-51.0 32.8L-51.0 35.0L-55.0 37.1ZM-39.0 37.5L-40.5 36.3L-41.7 34.0L-41.7 31.5L-40.5 30.3L-39.5 30.5L-38.5 32.0L-38.2 36.5L-38.5 37.5L-39.0 37.5ZM53.0 43.6L52.3 43.0L52.1 42.0L53.2 39.5L55.0 37.9L57.5 37.0L63.5 30.4L63.6 32.0L62.7 36.0L63.1 36.5L61.7 39.0L60.6 39.5L60.1 37.5L59.5 37.5L57.0 39.2L54.0 43.1L53.0 43.6ZM-61.0 35.1L-62.1 34.0L-62.2 33.0L-61.0 34.1L-61.0 35.1ZM-27.0 38.5L-27.9 38.0L-27.5 36.9L-27.0 38.5ZM41.0 41.0L39.7 40.5L39.9 39.0L41.5 37.5L43.0 37.1L43.7 38.0L43.4 39.0L41.0 41.0ZM-58.5 40.1L-59.9 39.0L-60.5 37.7L-58.7 39.0L-58.1 40.0L-58.5 40.1ZM-9.5 50.6L-11.5 50.6L-13.5 50.0L-14.5 48.5L-14.7 46.0L-13.7 43.5L-11.3 41.0L-9.5 39.9L-8.0 39.9L-6.1 41.0L-5.7 42.0L-8.8 45.0L-8.4 49.5L-9.5 50.6ZM-52.5 43.0L-53.5 42.9L-54.5 42.0L-54.6 40.5L-52.7 41.5L-52.5 43.0ZM15.5 46.5L7.5 45.4L6.6 45.0L6.3 44.0L9.0 41.3L12.0 41.1L16.8 43.5L17.0 45.0L15.5 46.5ZM-56.0 45.6L-58.0 42.7L-56.4 44.0L-55.7 45.5L-56.0 45.6ZM-44.5 47.4L-46.8 46.0L-47.5 43.9L-46.5 43.8L-44.9 45.0L-44.1 46.5L-44.5 47.4ZM25.5 49.1L24.0 49.3L23.0 48.5L24.5 46.1L26.5 45.3L27.4 46.0L27.2 47.0L25.5 49.1ZM-48.0 51.6L-52.0 48.3L-53.4 46.0L-52.3 46.0L-50.7 47.0L-48.5 50.0L-48.0 51.6ZM-31.0 52.1L-32.5 51.9L-37.5 49.2L-38.6 48.0L-38.9 46.5L-36.5 45.7L-34.0 46.0L-30.8 50.0L-30.3 51.0L-31.0 52.1ZM11.5 51.6L5.0 51.1L3.3 50.0L2.4 48.5L3.0 47.8L4.5 47.5L9.0 47.3L11.5 47.8L13.6 49.5L13.0 50.7L11.5 51.6ZM43.0 52.0L40.9 52.0L40.8 51.0L42.1 50.0L45.2 49.5L44.9 51.0L43.0 52.0ZM21.5 55.7L19.7 55.5L19.6 54.5L20.5 53.1L24.5 53.0L28.5 50.3L29.5 50.6L29.6 52.0L28.7 53.0L24.5 54.1L21.5 55.7ZM-42.5 54.5L-44.8 52.0L-43.0 53.1L-42.5 54.5ZM16.0 54.1L15.5 54.5L14.7 54.0L15.5 53.0L16.0 53.1L16.0 54.1ZM-7.5 55.1L-9.4 55.0L-10.9 54.0L-10.0 53.6L-8.0 54.0L-7.2 55.0L-7.5 55.1ZM6.0 62.1L3.5 62.3L2.8 62.0L2.5 61.0L3.9 55.5L4.9 54.5L6.0 54.3L7.3 55.0L7.7 56.5L7.1 61.0L6.0 62.1ZM27.5 67.0L26.5 67.2L27.1 66.0L26.0 64.5L26.4 64.0L32.5 61.2L35.3 59.0L38.2 55.5L40.0 54.8L41.5 55.0L39.2 57.5L42.0 57.5L41.8 58.5L32.5 62.6L27.5 67.0ZM-34.5 58.8L-37.0 57.8L-38.4 55.5L-37.5 55.3L-35.5 56.5L-34.4 58.0L-34.5 58.8ZM-17.0 57.8L-20.0 57.1L-21.0 56.0L-19.5 55.3L-18.0 55.7L-16.7 57.0L-17.0 57.8ZM13.0 59.5L11.5 59.6L10.6 59.0L11.0 57.5L12.7 57.0L14.9 58.0L14.5 58.8L13.0 59.5ZM29.0 61.6L27.6 61.0L28.2 60.0L31.5 58.3L32.5 58.0L32.9 58.5L31.5 60.3L29.0 61.6ZM-34.0 62.0L-35.5 62.0L-38.5 60.0L-36.4 60.0L-34.6 61.0L-34.0 62.0ZM-2.5 63.2L-3.0 63.5L-5.0 62.6L-5.7 61.0L-4.5 60.8L-3.0 61.5L-2.3 62.5L-2.5 63.2ZM18.0 62.5L16.9 62.0L18.5 61.1L19.4 61.5L18.0 62.5ZM-22.0 64.6L-23.5 64.5L-25.0 63.7L-25.7 63.0L-25.6 62.0L-24.5 61.6L-22.5 62.4L-21.4 63.5L-22.0 64.6ZM-9.0 65.5L-11.3 64.5L-12.0 63.5L-12.0 62.5L-10.0 62.1L-8.3 63.0L-7.5 64.6L-9.0 65.5ZM33.5 64.7L32.6 64.5L37.0 62.1L36.5 63.2L33.5 64.7ZM9.5 64.0L8.7 64.0L10.3 63.5L9.5 64.0ZM-28.5 66.4L-31.2 65.5L-29.1 65.5L-28.0 66.0L-28.5 66.4ZM-15.5 67.5L-18.0 67.3L-19.2 66.5L-18.0 65.7L-15.5 65.9L-14.2 67.0L-15.5 67.5ZM6.5 68.1L4.9 68.0L6.0 67.3L7.5 67.5L6.5 68.1ZM18.0 70.2L13.0 70.1L12.0 69.5L12.1 69.0L14.0 68.0L19.0 68.1L23.5 67.1L22.4 68.5L18.0 70.2ZM-21.0 69.6L-26.1 68.0L-23.0 68.3L-20.6 69.5L-21.0 69.6ZM-5.5 70.6L-10.0 70.8L-12.8 70.0L-10.0 69.3L-5.5 70.6Z"/>
<path fill="#8ca94a" fill-rule="evenodd" d="M-2.5 -72.4L-3.7 -72.5L-2.5 -72.4ZM4.0 -71.3L1.3 -72.0L3.0 -72.6L7.4 -72.0L3.2 -72.0L4.3 -71.5L4.0 -71.3ZM41.5 29.1L39.5 29.1L36.1 28.0L34.0 25.7L30.4 23.5L29.0 18.0L31.9 15.0L31.2 7.5L30.2 5.0L27.9 3.0L27.5 2.0L28.1 1.0L30.0 -0.1L37.0 -0.9L41.5 -2.1L43.0 -1.0L44.2 1.0L43.7 4.5L44.7 7.0L46.0 8.0L47.9 7.0L48.5 3.3L47.2 0.0L48.1 -4.0L47.8 -5.5L46.5 -7.3L43.5 -8.6L42.8 -10.0L43.4 -12.0L47.0 -14.5L48.3 -18.5L48.1 -21.5L46.0 -25.0L44.9 -24.5L45.3 -20.5L43.2 -18.5L40.9 -13.5L39.0 -13.2L35.0 -15.0L33.0 -15.2L31.5 -14.1L29.9 -10.5L28.0 -8.9L26.5 -8.9L23.5 -11.0L21.5 -11.0L19.6 -10.0L19.2 -9.0L19.6 -8.5L23.4 -5.0L23.0 -3.3L21.5 -2.4L19.7 -3.0L16.5 -5.9L15.5 -6.2L14.0 -5.7L11.0 -3.2L8.5 -2.8L6.0 -3.1L3.5 -4.5L1.0 -8.3L-1.0 -9.1L-6.0 -6.8L-12.5 -5.0L-14.5 -5.5L-17.5 -7.8L-19.0 -8.3L-20.5 -7.6L-20.9 -6.5L-20.0 -1.0L-21.5 0.3L-23.5 0.3L-25.7 -1.5L-25.4 -6.0L-26.5 -7.8L-29.0 -8.5L-33.5 -7.9L-38.7 -14.0L-40.7 -18.5L-40.8 -22.5L-37.5 -24.5L-36.1 -29.5L-34.5 -32.3L-30.1 -34.5L-27.5 -37.9L-23.5 -38.0L-22.3 -38.5L-22.3 -42.5L-21.2 -46.0L-22.0 -47.1L-24.0 -46.7L-24.9 -46.0L-26.3 -43.0L-27.5 -42.0L-31.0 -42.7L-32.5 -42.3L-35.0 -38.7L-35.4 -39.0L-34.5 -41.3L-33.2 -43.0L-30.5 -44.2L-28.5 -43.4L-27.5 -43.7L-26.1 -47.0L-23.5 -48.3L-21.5 -48.2L-20.5 -47.3L-21.3 -42.0L-20.5 -40.2L-19.0 -39.3L-17.5 -39.6L-16.0 -40.7L-12.5 -46.4L-10.5 -48.0L-9.0 -47.9L-5.5 -46.5L-4.0 -44.6L-2.0 -44.6L-3.5 -46.8L-4.4 -51.0L-3.9 -52.0L-0.1 -53.5L0.6 -54.5L-0.6 -56.0L-3.0 -57.2L-5.9 -56.5L-7.1 -52.5L-11.0 -50.2L-15.5 -50.3L-18.5 -51.4L-23.5 -49.3L-29.5 -48.1L-38.6 -49.0L-38.2 -50.0L-32.1 -55.5L-25.1 -59.0L-24.1 -62.5L-25.7 -63.5L-24.5 -65.1L-18.0 -67.5L-10.7 -69.0L-11.0 -70.9L-15.1 -71.0L-14.0 -71.5L-8.0 -71.6L-7.5 -71.5L-9.7 -70.5L-9.4 -70.0L-0.0 -69.0L-4.0 -68.8L-5.7 -68.0L1.0 -67.7L2.5 -67.1L2.7 -66.0L1.4 -64.5L2.4 -63.0L0.2 -62.0L-0.2 -61.0L4.7 -58.0L9.8 -56.0L10.8 -55.0L11.4 -53.0L12.0 -52.8L15.5 -56.0L8.5 -59.8L7.2 -61.0L6.6 -62.5L8.3 -65.5L12.5 -66.8L12.5 -67.6L17.7 -67.5L15.0 -67.0L15.0 -65.9L10.0 -65.5L9.5 -65.0L9.6 -63.5L8.3 -62.0L9.5 -60.0L14.0 -57.9L15.5 -58.1L16.0 -60.3L17.0 -56.5L19.5 -55.9L22.0 -56.8L22.6 -58.0L22.7 -60.5L23.0 -60.9L23.3 -60.5L23.2 -58.0L22.5 -56.0L20.5 -54.8L17.5 -54.7L15.6 -54.0L13.5 -51.0L13.8 -49.5L18.5 -45.2L20.0 -45.2L23.5 -46.8L25.5 -46.5L28.0 -45.0L27.5 -44.6L25.5 -45.8L23.5 -46.1L20.0 -44.1L18.5 -44.1L14.0 -47.7L12.0 -48.5L10.5 -47.6L8.5 -44.9L4.0 -42.9L0.1 -42.5L-1.6 -38.5L-4.9 -34.0L-4.7 -29.5L-6.7 -26.5L-6.0 -22.5L-6.5 -21.3L-7.5 -21.0L-12.5 -23.5L-16.0 -22.2L-18.5 -19.5L-20.0 -15.2L-24.7 -14.5L-23.5 -10.7L-22.5 -9.4L-18.5 -10.0L-14.7 -7.0L-13.0 -6.4L-9.0 -8.2L-6.0 -8.3L-2.5 -10.1L0.0 -10.1L1.5 -9.4L5.0 -4.7L9.0 -3.8L11.5 -5.0L12.4 -8.0L9.0 -9.5L7.3 -11.5L6.4 -14.5L6.4 -16.5L7.0 -17.4L13.0 -14.5L13.0 -8.4L15.5 -9.0L18.0 -11.2L22.5 -12.4L24.5 -12.0L26.5 -10.6L28.0 -10.7L29.5 -11.9L31.0 -15.4L32.0 -16.1L35.0 -16.0L38.0 -14.8L39.5 -14.8L40.2 -15.5L40.5 -17.0L38.6 -19.5L38.9 -20.5L40.5 -22.4L43.1 -23.0L44.0 -26.4L45.2 -28.5L44.3 -30.5L45.1 -34.5L44.8 -35.5L38.5 -39.1L36.3 -39.0L35.3 -33.5L37.0 -31.7L40.0 -31.8L40.9 -31.5L40.7 -31.0L37.5 -28.5L34.0 -28.2L32.5 -27.5L32.2 -23.5L29.5 -19.3L28.0 -18.3L24.5 -17.9L16.5 -18.7L13.4 -22.5L10.1 -25.0L8.4 -28.0L6.7 -29.5L7.0 -30.0L8.4 -29.0L11.0 -25.5L17.0 -20.3L18.5 -20.0L21.5 -20.7L24.5 -19.0L27.5 -19.1L28.9 -20.0L29.8 -21.5L30.5 -23.5L30.1 -25.0L28.5 -25.5L25.5 -25.4L21.5 -23.4L20.5 -23.9L18.8 -26.5L18.4 -28.5L18.9 -30.0L20.0 -30.6L24.0 -30.9L26.2 -33.5L27.5 -34.2L29.0 -33.1L30.5 -29.7L35.0 -29.9L35.4 -30.5L34.1 -34.5L35.4 -40.0L37.9 -40.0L44.0 -37.2L47.0 -43.0L48.5 -43.9L51.3 -43.0L51.0 -42.6L49.5 -42.9L46.1 -40.0L45.6 -38.5L45.7 -36.0L46.7 -35.0L51.0 -33.3L53.2 -29.5L56.5 -26.4L57.1 -27.0L56.6 -29.0L57.0 -29.3L57.8 -27.0L57.5 -24.6L53.5 -27.7L52.9 -27.5L52.7 -26.5L52.8 -22.5L55.5 -16.5L54.0 -14.5L54.0 -13.5L55.7 -9.5L56.5 -4.0L53.8 4.0L54.2 6.0L55.5 7.1L58.0 7.8L59.0 7.2L60.0 0.5L62.0 -1.0L63.0 -2.9L62.6 -0.5L60.6 3.0L60.5 5.9L61.5 5.9L64.0 3.5L67.0 4.5L67.9 4.0L67.8 -2.0L66.7 -7.0L67.0 -8.1L68.5 -8.9L68.7 -10.0L66.3 -19.0L66.5 -19.6L67.5 -17.8L69.0 -17.0L67.6 -21.0L68.0 -21.3L68.8 -19.5L69.5 -18.7L70.0 -18.9L70.4 -18.0L69.7 -16.5L70.7 -13.5L70.5 -12.8L70.0 -13.4L69.7 -12.0L71.2 -8.5L71.3 -5.0L71.0 -3.4L69.5 -4.9L68.8 -3.0L69.5 -1.4L71.0 -1.5L71.3 -1.0L71.0 4.4L70.5 0.0L69.0 -0.0L68.5 7.1L68.0 7.4L66.9 6.0L64.5 4.5L59.5 8.6L58.2 13.5L57.6 22.5L57.0 23.4L52.0 26.5L50.5 26.9L49.0 22.7L41.5 29.1ZM9.5 -71.4L8.3 -71.5L9.5 -71.4ZM11.5 -70.6L10.4 -71.0L11.5 -71.1L11.5 -70.6ZM10.5 -67.9L0.2 -68.5L5.0 -68.9L5.5 -70.4L7.5 -68.8L10.5 -67.9ZM19.0 -69.8L12.6 -70.0L13.0 -70.4L19.5 -70.0L19.0 -69.8ZM24.5 -66.8L21.5 -67.0L20.8 -68.0L21.1 -69.0L26.1 -68.0L24.5 -66.8ZM-19.2 -56.0L-14.3 -60.5L-14.5 -61.0L-17.5 -60.6L-17.7 -61.0L-15.4 -62.0L-14.6 -63.0L-15.5 -63.7L-18.3 -64.0L-12.0 -64.3L-8.8 -66.5L-8.5 -67.2L-11.5 -67.7L-16.5 -66.7L-19.9 -65.0L-20.1 -64.5L-19.0 -63.5L-21.5 -63.3L-23.0 -62.3L-23.7 -60.0L-21.2 -59.5L-22.1 -59.0L-22.5 -58.0L-20.5 -56.1L-19.2 -56.0ZM28.0 -62.0L23.0 -64.1L19.2 -65.0L18.9 -66.5L17.8 -67.0L20.0 -66.8L22.4 -65.0L25.5 -63.9L29.5 -63.5L28.0 -62.0ZM4.6 -44.5L7.3 -46.0L9.6 -49.0L9.3 -54.5L7.9 -56.0L1.0 -59.1L-6.3 -61.0L-6.6 -62.0L-5.8 -63.0L-0.3 -66.0L-0.3 -66.5L-1.5 -66.8L-5.5 -66.7L-8.7 -65.5L-10.3 -64.0L-12.6 -59.5L-15.5 -58.0L-19.0 -54.7L-20.5 -55.0L-24.0 -57.9L-25.5 -57.8L-29.1 -56.0L-35.0 -51.5L-36.0 -50.0L-32.5 -49.2L-29.5 -49.2L-22.5 -50.8L-18.5 -52.9L-14.5 -51.3L-10.5 -51.5L-8.8 -52.5L-8.3 -54.0L-9.0 -54.6L-11.5 -54.4L-13.0 -55.0L-13.2 -56.0L-12.3 -58.0L-11.0 -58.5L-7.0 -57.8L-4.0 -58.3L0.5 -56.2L1.7 -54.5L1.0 -53.2L-2.9 -51.5L-3.4 -50.5L-3.0 -49.3L2.0 -44.6L4.6 -44.5ZM-1.7 -62.5L-1.2 -63.0L-1.5 -63.5L-2.8 -63.0L-1.7 -62.5ZM15.5 -60.2L14.5 -62.0L15.4 -63.0L18.5 -63.9L21.0 -62.5L16.5 -62.7L15.6 -62.0L15.5 -60.2ZM-35.0 -62.3L-36.2 -63.0L-35.0 -62.8L-35.0 -62.3ZM36.0 -61.7L35.1 -63.0L36.4 -62.0L36.0 -61.7ZM7.0 72.5L-1.1 72.0L3.3 71.5L1.0 70.3L-3.0 70.0L-5.7 69.0L-5.6 68.5L0.9 66.0L2.0 63.6L5.0 63.2L8.3 61.5L8.3 59.0L9.4 55.0L9.0 54.0L7.0 52.9L3.5 52.9L2.0 53.4L1.5 59.5L0.0 61.4L-4.5 59.2L-6.0 59.0L-8.2 60.5L-7.0 62.0L-7.5 62.4L-9.0 61.2L-10.5 60.9L-13.1 61.5L-14.8 62.5L-14.5 63.5L-12.0 65.7L-9.5 66.7L-6.1 65.5L-5.9 64.5L-6.9 63.0L-6.5 62.6L-4.6 65.0L-5.2 66.0L-7.7 67.5L-7.7 68.5L-11.4 68.0L-13.0 66.0L-15.5 64.8L-18.5 64.8L-22.3 66.5L-21.1 67.5L-16.4 69.0L-15.4 70.0L-16.0 70.4L-18.0 70.2L-18.7 70.0L-17.3 69.5L-20.5 69.0L-22.5 67.7L-25.5 67.5L-25.7 66.5L-27.4 65.5L-27.0 65.0L-23.0 66.5L-24.4 65.5L-24.0 65.1L-21.5 65.5L-19.2 64.0L-19.2 63.5L-21.5 61.5L-20.4 59.5L-23.8 57.0L-24.4 56.0L-23.8 54.5L-22.0 53.0L-22.3 52.5L-25.5 50.2L-27.5 47.4L-29.5 47.0L-29.8 48.5L-27.8 51.0L-27.6 52.0L-28.1 54.0L-27.7 56.0L-28.2 58.0L-27.1 60.5L-27.5 62.5L-25.1 64.5L-25.5 64.9L-27.0 64.3L-27.5 65.3L-30.5 62.8L-32.1 64.0L-34.6 63.5L-33.0 63.2L-32.4 62.5L-34.2 60.5L-32.8 60.0L-33.2 58.0L-34.3 56.5L-34.0 56.0L-32.3 57.5L-32.0 59.5L-31.0 60.9L-29.5 61.7L-28.2 61.0L-28.3 60.0L-30.2 57.5L-29.2 56.0L-29.4 54.0L-28.7 51.5L-31.2 47.5L-30.6 45.0L-35.9 40.0L-36.7 31.5L-37.4 29.5L-38.5 28.4L-43.0 29.0L-44.5 34.4L-48.0 33.6L-48.7 34.5L-48.7 36.5L-48.0 38.4L-45.2 38.0L-43.5 35.8L-41.5 37.7L-39.7 42.5L-41.2 44.0L-41.2 45.0L-39.0 49.0L-34.6 52.0L-34.2 53.0L-35.3 54.0L-35.1 55.0L-35.5 55.5L-36.9 54.0L-36.1 52.0L-40.1 49.0L-45.0 42.5L-42.4 41.0L-42.5 38.9L-43.0 38.6L-45.5 40.0L-46.1 41.5L-48.5 41.8L-49.2 43.5L-47.9 46.0L-41.7 52.0L-38.9 57.5L-37.2 58.5L-37.5 58.8L-39.9 58.5L-43.5 56.4L-47.0 55.3L-53.5 49.0L-53.0 48.1L-51.0 50.5L-46.0 54.6L-44.5 55.2L-44.5 53.8L-42.5 55.6L-40.4 56.0L-41.9 53.0L-49.8 45.0L-50.3 41.5L-49.2 39.5L-49.5 38.6L-52.0 38.0L-53.5 39.0L-55.5 39.0L-56.2 39.5L-55.3 42.5L-52.0 44.5L-52.5 44.9L-54.5 44.1L-55.0 45.3L-57.6 42.0L-56.4 41.5L-57.1 38.5L-54.0 38.1L-52.5 37.1L-50.0 36.6L-49.0 32.6L-46.0 32.8L-44.8 31.5L-45.4 28.5L-48.0 26.9L-51.0 29.2L-54.0 29.5L-55.6 29.0L-51.3 27.5L-51.0 26.5L-53.8 24.0L-53.5 23.6L-51.0 24.7L-48.0 23.3L-45.4 24.5L-43.0 26.9L-41.0 27.0L-40.3 26.5L-40.2 25.5L-43.5 23.3L-44.3 21.5L-44.0 19.0L-42.0 17.9L-39.5 17.9L-36.5 21.0L-32.0 22.0L-29.6 27.5L-27.2 30.5L-25.6 30.5L-24.5 29.9L-23.0 26.7L-20.5 26.1L-18.2 27.0L-15.7 31.0L-14.0 32.3L-11.5 32.1L-10.0 30.5L-13.1 26.5L-16.5 24.0L-18.5 21.0L-21.5 18.5L-21.8 17.0L-19.8 13.0L-20.0 12.0L-21.5 10.7L-24.5 9.8L-28.5 9.9L-32.5 13.8L-37.5 15.4L-39.0 14.9L-40.3 11.0L-40.3 7.0L-39.7 4.5L-38.0 3.1L-33.5 3.0L-32.4 1.5L-32.5 0.0L-35.0 -4.7L-36.5 -5.0L-38.0 -4.3L-39.3 -3.0L-40.5 -0.3L-43.0 0.1L-43.8 1.0L-44.9 5.0L-46.7 7.0L-44.7 11.0L-44.7 13.0L-46.4 17.0L-49.5 20.7L-51.8 20.0L-49.5 19.5L-47.4 17.0L-45.6 13.5L-45.5 11.0L-46.5 9.5L-48.0 9.0L-51.0 9.7L-52.3 10.5L-55.0 14.5L-55.0 16.5L-53.6 18.5L-54.0 18.9L-54.6 18.5L-55.4 17.5L-55.8 15.5L-54.7 12.0L-52.5 9.2L-48.5 8.0L-47.2 7.0L-50.0 4.5L-54.5 4.5L-56.3 2.5L-54.0 3.7L-50.5 3.1L-47.5 5.1L-46.0 4.9L-45.1 2.0L-46.0 -2.8L-47.4 -1.0L-49.5 -0.3L-50.9 -2.0L-51.1 -4.5L-50.5 -6.5L-49.5 -7.3L-47.0 -5.1L-46.5 -5.2L-45.0 -9.5L-46.5 -10.1L-50.0 -9.4L-53.0 -11.6L-56.5 -11.6L-57.7 -10.5L-59.0 -7.5L-61.5 -6.3L-62.6 -2.5L-62.2 -7.5L-60.0 -9.1L-57.0 -13.0L-53.5 -13.0L-49.0 -11.1L-46.0 -11.9L-45.1 -13.5L-46.0 -15.5L-48.5 -16.8L-49.5 -18.0L-50.1 -23.0L-52.2 -22.5L-56.0 -19.3L-57.5 -18.9L-58.5 -19.3L-59.1 -20.5L-59.3 -24.5L-60.0 -25.2L-62.1 -25.0L-62.5 -27.1L-64.0 -26.5L-64.6 -27.5L-64.1 -29.5L-63.5 -28.1L-61.2 -29.0L-60.8 -26.5L-58.8 -25.0L-58.6 -21.0L-57.5 -19.9L-55.1 -21.0L-53.1 -24.5L-55.4 -26.0L-55.4 -27.5L-54.5 -28.8L-53.5 -29.2L-52.4 -28.5L-52.6 -24.5L-50.4 -25.5L-48.5 -31.5L-49.4 -34.0L-48.9 -37.5L-49.3 -41.0L-47.5 -45.0L-48.5 -45.1L-51.0 -43.8L-53.5 -40.8L-54.0 -41.0L-54.0 -42.5L-55.4 -43.0L-52.0 -44.2L-48.5 -47.5L-47.8 -48.5L-48.3 -49.0L-51.0 -49.0L-46.7 -51.0L-45.9 -52.0L-45.9 -53.5L-44.0 -56.5L-44.0 -55.0L-43.5 -54.7L-41.0 -55.5L-40.5 -54.6L-40.0 -54.7L-37.7 -56.0L-37.5 -56.7L-39.5 -56.6L-39.6 -57.0L-38.3 -60.5L-40.0 -60.0L-40.4 -60.5L-37.0 -62.6L-35.6 -62.0L-37.6 -60.0L-37.9 -59.0L-37.5 -58.5L-33.0 -60.8L-32.6 -60.5L-33.9 -59.5L-31.3 -60.5L-32.5 -60.6L-32.5 -61.2L-29.1 -61.5L-30.4 -60.0L-34.8 -58.0L-37.0 -55.4L-40.9 -53.0L-43.0 -51.0L-44.7 -48.5L-44.5 -47.9L-43.0 -47.4L-43.0 -46.5L-44.5 -44.7L-47.4 -43.0L-48.6 -40.5L-47.7 -38.0L-48.1 -35.5L-47.5 -34.8L-42.0 -37.7L-37.5 -37.4L-35.5 -39.0L-35.2 -38.5L-37.0 -36.8L-41.0 -36.9L-42.4 -36.0L-42.6 -31.0L-43.7 -26.5L-47.5 -24.0L-48.8 -20.5L-48.1 -18.0L-45.5 -16.7L-44.1 -15.0L-43.6 -13.0L-43.8 -10.5L-41.0 -4.4L-34.5 -6.4L-31.4 0.0L-31.3 2.0L-32.5 3.9L-37.5 4.0L-39.0 5.1L-39.7 10.0L-38.8 13.5L-37.0 14.4L-33.1 13.0L-30.5 9.0L-29.5 8.4L-26.0 8.4L-22.5 9.1L-18.9 11.5L-18.3 12.5L-20.6 16.5L-20.5 18.1L-15.5 23.1L-12.5 23.9L-12.0 23.5L-11.5 20.8L-8.0 19.4L-6.2 18.0L-5.4 16.5L-5.4 15.0L-7.6 10.5L-7.6 6.0L-11.0 3.6L-13.2 6.0L-11.8 10.0L-12.3 12.0L-14.0 13.1L-16.3 12.5L-16.5 11.0L-14.2 7.0L-14.5 6.0L-17.6 3.0L-17.8 2.0L-17.1 1.0L-15.2 1.0L-12.0 2.9L-11.0 2.8L-5.0 -3.3L-3.0 -3.7L-1.0 -2.8L0.1 -1.0L-0.2 0.0L-4.8 3.0L-6.3 5.5L-3.7 9.0L-1.5 14.7L0.0 16.0L2.0 16.5L3.9 15.5L7.9 11.5L8.6 10.0L3.7 5.0L3.3 3.0L4.0 1.7L6.0 1.6L11.5 3.0L17.5 2.5L20.5 3.1L22.0 4.0L22.4 5.0L19.8 9.0L19.2 11.0L20.2 13.5L23.0 17.5L23.0 18.5L21.9 20.5L18.9 23.5L18.6 24.5L19.0 25.5L21.5 27.5L22.0 29.0L21.1 31.0L17.0 35.0L21.2 38.5L21.8 39.5L21.7 40.5L19.5 42.2L18.5 42.4L11.0 39.8L9.5 39.8L3.3 44.0L3.0 45.0L6.0 46.1L10.5 46.5L2.0 46.4L0.5 47.3L0.1 48.5L1.0 50.0L4.0 51.8L11.0 53.3L15.0 50.0L14.7 48.5L12.7 47.5L16.4 48.0L17.0 49.0L12.6 54.0L13.0 55.1L15.0 55.9L17.0 55.3L18.2 52.5L19.5 51.2L25.5 50.5L25.8 51.0L19.5 52.3L17.9 55.5L16.5 56.6L11.0 55.6L9.2 58.5L9.5 61.5L7.5 62.8L3.5 64.1L2.9 65.5L4.0 66.0L12.0 66.3L13.0 66.0L14.0 63.9L20.0 63.1L21.6 61.0L21.9 57.5L24.0 55.9L31.5 52.5L31.4 50.0L32.6 48.0L35.5 46.8L37.3 48.5L37.3 49.5L36.4 50.5L32.2 53.0L30.1 57.0L32.5 56.6L32.9 57.0L24.5 59.8L23.0 61.5L23.5 62.1L28.8 62.5L24.5 63.4L22.0 64.8L17.5 65.9L16.4 66.5L17.0 67.0L16.5 67.3L11.5 67.3L6.5 66.2L3.0 67.3L2.7 68.0L3.5 69.0L6.0 69.2L10.0 68.3L11.0 70.0L12.2 70.5L10.5 70.5L9.0 69.0L4.5 70.2L4.3 70.5L7.0 72.0L7.0 72.5ZM45.5 -44.5L42.5 -45.0L40.0 -44.6L34.8 -49.0L34.4 -50.0L36.0 -52.0L35.5 -52.7L29.7 -54.0L32.5 -54.2L33.3 -55.0L33.1 -56.0L31.5 -57.2L28.8 -57.0L28.0 -55.0L27.4 -56.5L29.5 -59.0L28.5 -61.6L33.5 -59.3L35.0 -59.6L35.3 -60.0L34.6 -61.0L35.5 -61.1L36.7 -59.5L34.8 -58.0L37.5 -55.7L39.5 -56.3L42.0 -55.6L45.3 -55.5L41.9 -54.0L44.3 -47.5L44.0 -47.0L41.5 -52.6L38.0 -55.1L37.2 -54.0L37.9 -51.0L37.1 -49.0L38.6 -47.0L40.5 -45.9L44.0 -45.7L44.0 -47.0L44.5 -47.3L45.6 -45.5L45.5 -44.5ZM38.0 -60.2L36.7 -61.0L37.0 -61.3L38.3 -60.5L38.0 -60.2ZM-18.0 -60.4L-19.5 -60.5L-17.6 -60.5L-18.0 -60.4ZM-41.0 -59.4L-41.5 -59.1L-41.9 -59.5L-40.5 -60.4L-40.0 -60.0L-41.0 -59.4ZM-20.0 -59.9L-21.2 -60.0L-20.0 -59.9ZM41.0 -59.1L39.6 -59.5L40.5 -60.3L41.4 -59.5L41.0 -59.1ZM-43.0 -57.6L-43.5 -58.0L-42.0 -59.4L-41.6 -59.0L-43.0 -57.6ZM46.5 -54.9L45.3 -55.0L46.5 -54.9ZM47.5 -49.5L46.1 -51.5L49.6 -51.0L47.5 -50.6L47.5 -49.5ZM52.0 -49.7L49.6 -50.5L52.0 -50.3L52.4 -50.0L52.0 -49.7ZM53.5 -48.7L52.1 -49.5L52.6 -50.0L53.1 -50.0L53.5 -48.7ZM-52.0 -47.9L-52.7 -48.0L-51.0 -49.0L-50.8 -48.5L-52.0 -47.9ZM-21.0 -17.0L-18.5 -21.0L-14.5 -24.2L-12.5 -24.7L-9.0 -23.6L-8.5 -24.0L-8.2 -27.0L-6.0 -30.5L-6.8 -34.5L-3.0 -38.3L-2.0 -41.0L-3.0 -42.2L-6.4 -43.5L-7.3 -46.0L-8.5 -46.8L-10.0 -47.1L-12.0 -46.0L-15.4 -39.5L-15.0 -38.3L-10.3 -37.0L-9.3 -35.5L-12.1 -29.0L-13.0 -28.3L-14.0 -28.3L-16.2 -31.5L-18.0 -32.4L-19.5 -32.3L-20.8 -31.5L-21.6 -29.5L-21.3 -28.0L-20.0 -26.5L-21.5 -26.3L-24.0 -27.5L-25.5 -27.3L-27.0 -25.7L-29.1 -21.5L-28.9 -20.0L-25.5 -17.5L-22.5 -16.6L-21.0 -17.0ZM6.5 -29.6L2.8 -31.5L2.0 -33.0L3.6 -38.0L5.0 -39.9L8.5 -39.8L11.5 -38.7L12.7 -37.0L13.1 -34.0L14.5 -33.0L17.0 -35.9L22.0 -38.5L27.0 -38.0L28.5 -38.5L30.0 -42.0L27.6 -44.5L28.0 -45.0L31.7 -42.0L29.0 -37.2L27.5 -36.8L24.0 -37.8L22.5 -37.6L18.0 -35.2L16.0 -32.3L14.5 -31.7L13.5 -31.9L12.5 -32.9L11.7 -37.0L11.0 -38.0L8.5 -39.1L5.8 -39.0L4.4 -37.5L3.2 -33.5L4.3 -31.5L7.0 -30.0L6.5 -29.6ZM54.0 -41.2L51.1 -42.5L51.5 -42.9L53.0 -42.5L53.5 -43.9L54.0 -41.2ZM-56.5 -41.4L-55.5 -42.9L-55.1 -42.5L-56.5 -41.4ZM63.5 -32.4L62.0 -35.2L60.3 -36.5L59.5 -40.6L64.0 -33.9L63.5 -32.4ZM-59.5 -39.0L-60.1 -40.0L-59.5 -40.3L-59.5 -39.0ZM-58.0 -38.2L-58.0 -39.8L-58.0 -38.2ZM-58.5 -36.4L-58.5 -38.2L-58.5 -36.4ZM-32.8 -11.0L-30.6 -13.5L-25.9 -15.0L-27.5 -17.5L-29.5 -18.6L-31.5 -18.9L-31.8 -19.5L-26.5 -28.4L-20.5 -33.4L-18.0 -33.5L-14.5 -31.9L-13.0 -31.9L-11.6 -34.5L-12.3 -36.0L-17.5 -37.1L-26.5 -36.1L-28.0 -33.8L-32.5 -32.6L-34.3 -31.5L-35.5 -28.5L-35.0 -25.5L-35.4 -24.5L-38.8 -21.5L-39.5 -19.5L-37.0 -13.4L-34.5 -11.1L-32.8 -11.0ZM-59.0 -34.0L-59.0 -36.3L-58.5 -35.3L-57.0 -36.0L-57.5 -34.8L-59.0 -34.0ZM56.5 -29.1L55.4 -33.0L55.5 -35.0L56.0 -35.2L59.0 -32.5L58.5 -32.2L56.5 -33.3L56.5 -29.1ZM-45.9 -26.5L-44.5 -27.8L-43.5 -31.0L-43.8 -33.5L-45.0 -34.3L-48.4 -28.0L-48.0 -26.2L-45.9 -26.5ZM50.3 -30.0L50.9 -31.0L50.1 -32.5L47.5 -33.7L46.3 -33.5L45.9 -32.0L46.4 -30.5L48.0 -29.8L50.3 -30.0ZM63.0 -19.8L62.9 -23.0L59.1 -31.5L59.5 -31.9L61.0 -30.7L62.0 -31.2L63.3 -29.5L63.0 -29.1L62.5 -29.4L62.3 -28.5L64.3 -23.5L63.2 -23.5L63.0 -19.8ZM22.9 -25.0L27.2 -27.5L27.5 -30.9L26.0 -29.9L21.5 -29.8L19.8 -29.0L19.4 -27.5L20.4 -25.5L21.5 -24.8L22.9 -25.0ZM65.0 -27.0L63.6 -28.5L64.5 -28.3L65.0 -29.6L65.0 -27.0ZM-66.5 -27.8L-67.0 -27.5L-67.0 -28.5L-66.2 -28.5L-66.5 -27.8ZM41.8 28.0L51.0 18.8L50.5 23.0L51.0 25.0L52.5 25.1L54.5 23.5L56.0 20.9L58.0 11.0L57.7 9.0L54.5 7.3L53.1 5.5L55.2 -8.0L54.6 -10.0L52.5 -13.5L53.1 -18.5L51.9 -26.5L51.0 -28.3L50.0 -28.7L46.5 -28.6L45.8 -28.0L48.8 -22.5L50.1 -18.0L48.4 -13.0L45.5 -11.5L44.7 -10.0L47.9 -7.0L48.7 -5.0L49.6 4.0L49.4 6.0L48.5 7.9L47.0 9.2L46.0 9.3L42.5 7.0L39.0 10.8L36.5 12.4L35.8 9.5L36.3 6.5L38.0 4.5L42.0 2.6L42.3 0.0L40.5 -1.1L34.0 -0.1L30.6 1.0L29.7 2.0L31.3 5.5L32.2 11.0L33.0 12.5L34.0 12.8L36.0 12.3L37.4 15.0L40.0 16.8L42.0 16.7L45.5 14.9L46.7 15.5L46.7 17.5L44.0 22.4L43.0 23.3L39.5 21.5L35.5 21.2L32.5 20.0L31.9 20.5L31.7 22.0L32.5 23.4L37.0 27.0L39.5 28.2L41.8 28.0ZM0.0 -21.3L-1.8 -22.0L-2.5 -23.5L-1.3 -26.5L0.0 -27.1L1.0 -26.0L1.5 -24.0L1.0 -22.0L0.0 -21.3ZM67.5 -21.0L66.8 -23.5L67.5 -26.0L67.5 -21.0ZM-66.0 -2.8L-66.5 -7.3L-68.5 -7.6L-69.5 -11.3L-71.0 -11.6L-71.5 -10.8L-71.6 -11.5L-71.0 -12.7L-69.5 -12.3L-68.0 -10.2L-64.5 -22.1L-63.5 -23.7L-63.0 -23.6L-63.1 -22.5L-64.5 -16.0L-64.0 -15.1L-62.5 -15.1L-61.6 -14.5L-61.3 -12.5L-62.5 -10.2L-65.2 -9.5L-66.0 -2.8ZM-69.5 -19.5L-69.9 -20.0L-69.6 -21.5L-68.5 -23.1L-69.5 -19.5ZM-70.0 -17.9L-70.0 -19.2L-70.0 -17.9ZM-8.5 -9.3L-10.0 -9.2L-12.0 -11.0L-12.4 -12.5L-11.8 -14.0L-7.0 -18.6L-6.0 -18.8L-3.0 -17.5L-2.0 -15.5L-3.0 -12.4L-4.0 -11.4L-8.5 -9.3ZM61.5 -9.8L57.4 -13.5L56.8 -15.5L58.0 -18.6L61.0 -16.4L62.6 -18.5L62.5 -17.0L60.2 -14.0L61.5 -9.8ZM-8.5 -11.0L-4.0 -13.2L-3.2 -15.0L-4.0 -16.6L-7.0 -17.1L-10.4 -14.5L-11.2 -13.0L-11.0 -12.0L-10.0 -11.0L-8.5 -11.0ZM-65.5 -12.5L-65.5 -15.5L-66.6 -13.5L-66.5 -12.4L-66.0 -12.0L-65.5 -12.5ZM-63.2 -11.5L-62.3 -13.0L-63.0 -14.0L-64.3 -12.5L-63.2 -11.5ZM10.6 -11.5L10.6 -13.0L9.5 -13.2L9.1 -12.5L9.5 -11.5L10.6 -11.5ZM71.0 -11.3L71.0 -12.7L71.0 -11.3ZM71.5 -9.4L71.5 -10.9L71.5 -9.4ZM72.0 -7.8L72.0 -9.3L72.0 -7.8ZM70.7 -6.0L70.6 -8.0L70.0 -8.6L69.6 -7.0L70.5 -5.5L70.7 -6.0ZM63.5 -2.9L63.5 -7.6L64.2 -5.5L63.5 -2.9ZM21.1 -5.0L20.5 -5.4L20.0 -5.0L20.5 -4.5L21.1 -5.0ZM-49.0 -2.5L-48.9 -4.0L-49.5 -4.2L-49.9 -3.0L-49.0 -2.5ZM-21.9 -1.5L-21.5 -2.0L-21.8 -3.5L-22.5 -4.4L-23.5 -4.3L-24.3 -2.0L-23.5 -1.1L-21.9 -1.5ZM-62.0 28.8L-65.0 26.4L-66.5 21.0L-67.5 19.2L-68.5 18.7L-69.1 17.0L-69.0 15.6L-66.0 20.2L-65.0 20.9L-65.8 14.5L-65.0 14.0L-63.0 15.2L-62.3 15.0L-63.0 7.5L-65.0 5.6L-68.0 5.6L-68.8 4.0L-68.5 3.5L-67.5 4.5L-65.5 3.9L-64.0 0.5L-63.5 1.0L-63.7 3.0L-63.2 4.5L-62.0 5.4L-61.5 5.1L-58.0 -3.4L-56.2 2.0L-56.5 2.4L-58.0 0.0L-59.5 1.0L-60.2 3.0L-60.5 7.2L-62.1 11.0L-61.5 16.5L-62.0 17.1L-64.5 15.8L-64.6 17.5L-63.8 19.5L-61.0 22.4L-60.1 22.0L-59.3 20.0L-58.0 19.2L-57.0 19.4L-55.6 21.0L-56.0 21.3L-57.5 20.2L-58.5 20.5L-60.0 24.9L-63.0 22.2L-64.0 21.9L-63.3 25.5L-61.6 28.5L-62.0 28.8ZM-70.5 8.2L-70.7 1.5L-71.7 0.0L-70.3 -1.0L-69.5 -2.8L-69.0 -3.0L-67.0 -0.9L-66.5 -2.4L-66.0 0.0L-66.5 1.3L-68.5 -1.1L-69.1 -1.0L-68.6 3.5L-69.0 3.8L-70.0 1.8L-70.5 8.2ZM-4.8 1.5L-1.9 0.0L-1.5 -1.0L-2.0 -2.1L-4.0 -2.4L-5.7 -1.0L-6.5 1.4L-4.8 1.5ZM72.0 1.7L71.5 -1.0L71.7 -2.0L72.5 -2.6L72.0 1.7ZM-63.0 -0.5L-63.0 -2.1L-63.0 -0.5ZM-63.5 1.0L-64.0 0.5L-63.1 -0.5L-63.5 1.0ZM-72.0 5.0L-72.6 4.0L-72.0 1.2L-72.0 5.0ZM16.9 33.5L19.5 31.7L21.1 29.5L20.8 28.0L18.4 26.0L17.5 24.5L17.6 23.5L21.4 19.5L21.4 17.5L20.0 16.0L18.5 15.9L16.5 18.5L15.6 23.0L13.0 24.4L11.0 24.2L9.1 23.0L8.1 21.5L7.8 19.5L8.4 18.0L11.7 15.5L13.4 13.0L13.5 11.5L12.0 9.5L13.5 8.5L17.5 8.5L19.1 7.0L19.6 5.0L17.5 3.8L13.0 4.2L6.0 3.2L5.1 4.0L5.9 6.0L11.1 9.5L11.1 10.0L4.6 16.5L3.0 17.4L1.0 17.4L-3.5 15.0L-5.5 18.6L-8.3 21.5L2.0 22.3L3.5 23.2L4.7 25.0L5.2 31.5L6.0 31.9L9.0 31.0L13.5 33.8L16.9 33.5ZM72.5 6.1L72.5 4.8L72.5 6.1ZM38.7 10.0L40.7 7.0L40.8 6.0L40.0 5.1L38.0 5.6L36.7 7.5L37.0 10.0L38.7 10.0ZM71.0 16.1L70.8 13.5L69.9 12.5L70.5 6.9L70.7 11.0L71.6 13.0L71.0 16.1ZM-70.0 11.7L-70.0 9.4L-70.0 11.7ZM-3.9 13.0L-4.1 11.0L-5.0 9.6L-5.5 9.6L-6.0 10.0L-5.8 11.0L-5.0 12.5L-3.9 13.0ZM-69.5 15.3L-69.5 11.8L-69.1 14.0L-69.5 15.3ZM13.4 23.5L15.0 21.5L16.3 15.5L15.5 14.1L10.1 18.0L9.0 19.5L9.1 21.5L10.0 22.8L11.5 23.6L13.4 23.5ZM43.0 21.5L45.4 17.5L45.1 16.5L40.0 18.2L35.5 15.4L33.7 15.5L33.7 17.5L35.5 19.8L39.5 20.0L42.0 21.6L43.0 21.5ZM62.0 30.4L62.7 26.5L61.1 26.0L60.9 24.5L62.7 20.0L62.8 16.5L63.5 15.5L64.9 16.5L65.1 17.5L63.4 23.0L63.5 25.3L66.0 19.5L67.5 18.5L67.6 20.0L67.5 20.8L66.5 20.4L65.9 21.5L64.6 25.5L62.0 30.4ZM70.5 18.0L70.5 16.9L70.5 18.0ZM-34.6 26.0L-32.9 25.0L-32.6 24.0L-33.1 23.0L-37.5 22.0L-40.0 19.0L-42.0 18.8L-43.1 19.5L-43.4 21.0L-42.6 22.5L-39.0 24.1L-37.0 26.3L-34.6 26.0ZM67.0 22.4L67.0 20.8L67.0 22.4ZM-64.5 33.3L-66.3 28.5L-67.9 26.0L-68.0 22.9L-65.0 29.1L-61.8 31.5L-62.0 31.8L-63.0 31.3L-64.4 32.0L-64.5 33.3ZM-3.6 52.5L-3.9 51.5L-6.8 48.5L-7.4 47.0L-7.0 45.2L-3.6 42.5L-5.8 40.0L-5.5 39.5L-3.0 40.7L-0.7 40.5L5.6 35.5L3.6 31.5L4.4 27.5L4.1 25.5L2.0 23.1L0.0 22.7L-5.0 22.9L-7.1 23.5L-10.3 25.5L-10.1 26.5L-6.0 30.2L-6.0 31.7L-9.0 32.1L-12.0 33.2L-14.0 33.2L-16.1 32.0L-19.4 28.0L-20.5 27.7L-26.0 33.0L-25.0 36.0L-22.5 38.6L-17.5 37.7L-13.5 39.5L-9.0 38.5L-6.6 39.0L-7.0 39.3L-9.5 39.1L-13.5 40.6L-17.5 38.9L-22.5 39.9L-23.5 39.5L-27.5 34.6L-28.5 34.6L-29.9 35.5L-31.5 38.4L-34.5 36.7L-34.8 38.5L-34.3 40.0L-30.5 43.1L-28.5 43.7L-26.5 42.9L-24.8 45.0L-23.5 45.8L-22.5 45.7L-19.5 44.0L-17.0 43.8L-16.1 45.0L-15.5 49.5L-14.5 51.0L-3.6 52.5ZM65.0 29.6L64.7 26.5L65.5 24.5L65.0 29.6ZM-59.0 31.2L-60.1 31.0L-61.9 29.0L-61.5 28.6L-59.5 30.4L-59.0 26.8L-57.5 27.5L-58.6 28.5L-59.0 31.2ZM55.5 32.1L55.0 32.4L54.2 32.0L54.4 30.5L56.5 27.6L57.5 27.1L57.0 29.4L55.5 32.1ZM28.5 48.4L28.0 48.0L29.5 44.0L25.5 42.6L24.7 41.0L25.0 40.0L28.6 36.0L27.2 31.5L28.5 29.1L30.0 28.6L33.0 29.5L33.5 30.5L31.2 35.5L32.2 38.5L32.1 42.0L33.5 42.5L35.5 41.9L38.5 38.5L38.8 39.0L37.2 42.0L31.5 44.2L28.5 48.4ZM-30.9 34.5L-29.2 33.0L-29.3 31.5L-31.5 29.5L-33.5 29.3L-34.1 31.0L-33.4 33.0L-32.5 34.4L-30.9 34.5ZM30.1 34.0L31.5 33.1L32.3 31.5L32.1 30.5L30.5 29.7L29.0 30.0L28.1 31.5L28.5 33.3L30.1 34.0ZM11.3 36.5L13.3 35.5L9.5 32.6L8.0 33.0L6.4 35.0L6.9 36.0L8.5 36.7L11.3 36.5ZM44.5 39.8L44.2 39.5L45.2 37.5L45.2 36.0L44.0 35.5L41.5 36.4L41.0 36.0L43.0 34.7L47.0 33.4L47.5 34.0L47.5 35.5L44.5 39.8ZM63.5 35.3L63.5 34.3L64.0 34.4L63.5 35.3ZM-61.5 38.9L-63.1 36.5L-63.5 34.7L-63.0 35.5L-62.5 35.0L-61.0 36.0L-61.9 36.5L-61.2 38.5L-61.5 38.9ZM55.5 36.6L54.7 36.5L57.5 35.0L57.5 35.7L55.5 36.6ZM-58.5 37.5L-60.1 37.0L-59.0 36.1L-58.5 37.5ZM39.0 38.8L38.6 38.5L41.0 36.0L41.3 36.5L39.0 38.8ZM18.9 41.0L20.1 40.0L20.1 39.0L18.0 37.3L14.0 37.3L11.9 38.5L12.6 39.5L14.5 40.6L17.0 41.2L18.9 41.0ZM29.6 42.0L30.9 41.0L31.4 39.5L31.1 38.0L30.0 37.2L27.6 38.5L26.4 40.5L27.5 42.0L29.6 42.0ZM-60.0 41.0L-61.4 39.0L-61.0 38.7L-59.2 40.5L-60.0 41.0ZM3.6 42.0L5.9 41.0L6.7 40.0L6.5 39.0L5.0 38.9L3.0 40.4L2.2 41.5L3.6 42.0ZM58.0 44.0L55.5 43.7L55.3 43.0L57.0 40.4L59.0 39.3L59.8 41.0L58.0 44.0ZM34.0 59.2L34.5 57.0L32.7 56.5L35.0 55.4L36.3 54.0L40.0 47.1L41.0 43.0L43.5 40.3L43.9 40.5L41.6 43.5L40.7 48.5L38.1 53.0L38.5 53.5L42.8 53.5L40.0 53.9L37.1 55.0L34.0 59.2ZM51.5 41.5L51.5 40.4L51.5 41.5ZM58.6 42.0L58.0 40.7L56.6 42.0L58.6 42.0ZM51.0 43.5L51.0 41.8L51.0 43.5ZM52.5 50.4L52.5 48.9L50.5 48.6L48.0 49.7L47.1 49.0L47.3 47.0L50.5 43.3L51.0 43.5L50.6 44.5L48.5 47.7L52.5 46.9L53.6 48.0L52.5 50.4ZM-2.5 49.0L-0.4 45.0L-3.0 44.4L-5.0 45.0L-6.0 46.0L-6.0 47.1L-4.0 48.9L-2.5 49.0ZM20.0 47.1L18.5 47.4L18.4 46.5L19.4 44.5L20.5 44.3L21.4 45.5L20.0 47.1ZM-49.5 47.3L-51.0 45.7L-52.4 45.0L-52.0 44.5L-49.6 45.5L-49.1 47.0L-49.5 47.3ZM-19.8 51.5L-16.9 50.0L-16.7 47.0L-17.5 45.4L-19.5 45.4L-21.5 47.6L-24.5 47.3L-25.5 47.9L-25.2 49.0L-23.5 50.7L-21.5 51.5L-19.8 51.5ZM12.5 47.1L11.1 47.0L12.5 47.1ZM26.5 50.5L25.5 50.5L28.0 48.0L28.4 48.5L26.5 50.5ZM34.3 50.0L35.3 49.0L34.5 48.4L33.3 49.0L33.5 50.0L34.3 50.0ZM46.5 56.0L47.3 53.0L48.5 51.4L50.5 50.3L52.0 51.0L48.5 52.7L46.5 56.0ZM-8.6 59.0L-7.8 58.5L-7.7 57.5L-9.8 56.5L-9.5 56.1L-5.5 56.6L-4.5 55.5L-4.7 54.5L-6.5 53.3L-9.5 52.4L-13.5 52.6L-13.9 53.5L-13.3 54.5L-9.6 56.0L-10.0 56.3L-13.5 55.9L-13.9 56.5L-13.5 57.5L-11.0 59.2L-8.6 59.0ZM43.5 58.1L42.6 56.0L43.6 54.0L42.6 53.0L45.0 52.5L43.6 55.5L44.0 57.0L43.5 58.1ZM-12.9 60.5L-12.3 60.0L-12.6 59.5L-17.0 54.7L-19.5 53.9L-22.7 55.0L-23.0 56.0L-22.4 57.0L-18.9 59.0L-17.0 60.8L-12.9 60.5ZM27.4 57.0L29.5 56.0L30.0 54.7L27.0 55.5L24.9 57.0L25.5 57.4L27.4 57.0ZM-1.0 60.0L0.2 59.5L0.2 58.0L-1.0 56.4L-2.0 56.4L-3.1 58.0L-2.0 59.5L-1.0 60.0ZM40.5 60.5L39.5 60.9L38.9 60.5L41.0 60.0L40.5 60.5ZM17.7 65.0L17.5 64.5L15.6 65.0L17.7 65.0ZM21.5 67.0L20.4 67.0L22.5 65.2L25.8 66.0L25.5 67.0L24.0 66.0L21.5 67.0ZM20.0 67.6L16.8 67.5L17.0 67.1L20.0 67.6ZM1.9 69.5L1.0 67.8L0.0 67.5L-2.0 68.0L-3.3 69.0L-2.0 69.7L1.9 69.5ZM13.5 71.0L12.4 71.0L13.5 71.0ZM-5.0 72.5L-11.0 72.0L-11.0 71.5L-3.2 71.5L-5.0 71.9L-5.0 72.5ZM11.0 72.0L8.2 72.0L11.0 72.0Z"/>
<path fill="url(#gShadeG)" d="M74.2 0.0L75.7 2.2L75.6 4.3L74.8 6.4L74.8 8.6L75.4 10.8L73.6 12.7L74.4 15.1L72.9 17.0L70.5 18.5L73.0 21.4L73.3 23.8L69.2 24.7L67.5 26.3L67.2 28.4L66.2 30.2L65.2 32.0L66.1 34.9L64.3 36.3L63.5 38.3L63.7 40.9L62.3 42.6L60.5 44.0L58.2 44.9L55.7 45.6L53.5 46.3L52.7 48.3L51.1 49.6L49.5 50.9L51.0 55.5L51.2 59.1L50.1 61.3L45.7 59.2L42.4 58.3L41.1 60.2L40.5 63.0L38.8 64.4L36.6 64.8L35.0 66.4L32.9 67.0L30.8 67.3L28.3 67.1L26.9 69.1L25.1 70.5L22.8 70.2L21.2 72.0L19.4 73.7L16.4 70.3L14.1 69.6L12.6 72.7L10.8 74.9L8.4 73.5L6.3 73.7L4.3 74.5L2.1 73.2L0.0 72.9L-2.1 74.4L-4.2 74.3L-6.4 74.4L-8.1 70.4L-10.0 69.6L-12.3 70.9L-14.4 71.2L-16.7 71.8L-19.1 72.6L-21.1 71.9L-23.0 70.6L-25.4 71.1L-26.4 67.9L-28.6 67.6L-30.4 66.6L-32.8 66.7L-34.9 66.1L-36.3 64.2L-38.5 63.9L-41.0 63.8L-41.6 60.9L-42.7 58.8L-45.6 59.1L-48.3 59.0L-48.0 55.4L-47.9 52.2L-51.4 52.9L-53.8 52.2L-54.8 50.3L-55.8 48.3L-57.7 47.2L-58.4 45.0L-59.4 43.2L-61.0 41.7L-62.8 40.3L-64.0 38.6L-63.0 35.6L-64.9 34.2L-67.3 33.1L-67.4 30.8L-67.9 28.7L-69.3 27.0L-69.4 24.8L-70.9 23.1L-71.2 20.9L-71.5 18.8L-71.2 16.6L-72.3 14.6L-71.5 12.4L-70.9 10.2L-71.5 8.2L-72.6 6.2L-71.6 4.1L-72.9 2.1L-75.5 0.0L-74.8 -2.1L-73.7 -4.2L-74.9 -6.4L-75.2 -8.6L-74.0 -10.6L-72.5 -12.5L-73.3 -14.8L-72.8 -16.9L-70.8 -18.6L-69.0 -20.3L-71.0 -23.1L-70.1 -25.0L-69.7 -27.1L-67.8 -28.7L-66.0 -30.1L-65.2 -32.1L-65.0 -34.3L-64.5 -36.4L-62.0 -37.4L-61.8 -39.7L-60.6 -41.4L-59.8 -43.5L-59.0 -45.5L-56.3 -46.0L-54.9 -47.6L-53.5 -49.1L-53.1 -51.6L-52.4 -53.9L-51.1 -55.7L-49.2 -56.7L-46.0 -56.3L-44.8 -58.1L-43.2 -59.5L-41.6 -60.8L-39.4 -61.3L-38.6 -64.0L-36.7 -65.0L-33.6 -63.7L-31.9 -64.8L-31.0 -67.9L-29.0 -68.7L-26.1 -67.0L-24.0 -67.2L-23.0 -70.8L-21.4 -73.1L-18.9 -71.9L-16.4 -70.7L-14.5 -71.4L-12.4 -71.5L-10.5 -73.3L-8.5 -74.5L-6.4 -74.7L-4.3 -74.3L-2.1 -74.1L-0.0 -73.8L2.1 -72.3L4.2 -72.9L6.5 -75.6L8.5 -74.1L10.5 -72.8L12.5 -72.3L14.8 -73.0L16.8 -72.2L19.0 -72.1L21.0 -71.6L23.1 -71.1L24.8 -69.5L26.5 -68.1L28.3 -67.0L30.7 -67.2L32.9 -67.0L35.0 -66.3L36.7 -64.9L38.6 -64.1L39.7 -61.8L41.3 -60.4L44.0 -60.6L46.7 -60.6L48.2 -58.9L48.2 -55.6L47.6 -51.8L49.1 -50.5L52.2 -50.7L54.7 -50.2L54.9 -47.5L54.8 -44.8L58.5 -45.1L61.3 -44.5L59.7 -40.8L59.9 -38.5L63.6 -38.3L65.3 -36.9L65.3 -34.5L66.5 -32.7L66.0 -30.2L66.7 -28.2L67.2 -26.2L69.9 -24.9L69.9 -22.7L70.1 -20.6L70.8 -18.6L71.1 -16.5L73.9 -15.0L75.2 -13.0L76.6 -11.0L75.4 -8.6L75.3 -6.5L74.2 -4.2L75.0 -2.1Z"/>
</g>
<path d="M827.8 107.2 A21.2 21.2 0 1 0 827.8 145.6" fill="none" stroke="#d8431f" stroke-width="3.8" stroke-dasharray="11 3"/>
<path d="M827.8 107.2 A21.2 21.2 0 0 1 827.8 145.6" fill="none" stroke="#c42a3e" stroke-width="2.6" stroke-dasharray="7.5 4.5"/>
<path d="M833.9 110.7 L873.7 60.5" stroke="#c42a3e" stroke-width="2.7" fill="none" stroke-dasharray="9.6 8.2"/>
<path d="M833.9 141.2 L866.4 176.6" stroke="#c42a3e" stroke-width="2.7" fill="none" stroke-dasharray="9.6 8.2"/>
<path d="M877 176.7 L877 59 A117.7 117.7 0 0 1 994.7 176.7 Z" fill="#7d8b3d"/>
<path d="M877 176.7 L877 85.5 A91 89.5 0 0 1 965.5 176.7 Z" fill="#c8980f"/>
<path id="arcA" d="M877 75.2 A101.5 101.5 0 0 1 978.5 176.7" fill="none"/>
<text font-size="17.5" fill="#141a08" stroke="#141a08" stroke-width="0.3"><textPath href="#arcA" startOffset="27.5" textLength="127" lengthAdjust="spacingAndGlyphs">MgSiN<tspan font-size="11.5" dy="3">2</tspan><tspan dy="-3"> coating</tspan></textPath></text>
<text transform="translate(43.83,248.10) scale(1.0378,1)" font-size="31.40" fill="#000">Mg<tspan dy="8.01" font-size="21.35">2</tspan><tspan dy="-8.01">Si</tspan></text>
<text transform="translate(307.92,248.10) scale(1.0384,1)" font-size="31.40" fill="#000">Si@Mg<tspan dy="8.01" font-size="21.35">3</tspan><tspan dy="-8.01">N</tspan><tspan dy="8.01" font-size="21.35">2</tspan></text>
<text transform="translate(661.69,248.00) scale(1.0407,1)" font-size="31.40" fill="#000">pMSi@MgSiN<tspan dy="8.01" font-size="21.35">2</tspan></text>
<rect x="53.6" y="276.6" width="51.1" height="32.1" fill="#3b2ce0"/>
<text transform="translate(128.31,305.40) scale(1.0442,1)" font-size="31.40" fill="#000">Mg<tspan dy="8.01" font-size="21.35">2</tspan><tspan dy="-8.01">Si</tspan></text>
<rect x="270.5" y="276.6" width="51.1" height="32.1" fill="#2a4b86"/>
<text transform="translate(361.80,305.40) scale(1.0463,1)" font-size="31.40" fill="#000">Mg<tspan dy="8.01" font-size="21.35">3</tspan><tspan dy="-8.01">N</tspan><tspan dy="8.01" font-size="21.35">2</tspan></text>
<rect x="536" y="277.2" width="51" height="31.8" fill="#7a8a3e"/>
<text transform="translate(605.60,305.30) scale(1.0494,1)" font-size="31.40" fill="#000">MgSiN<tspan dy="8.01" font-size="21.35">2</tspan></text>
<rect x="796" y="277.2" width="50.8" height="31.8" fill="#c99913"/>
<text transform="translate(866.80,305.30) scale(1.0542,1)" font-size="31.40" fill="#000">Si</text>
</g>
<!-- ================= panel b ================= -->
<g id="panel-b">
<text transform="translate(23.33,341.40) scale(1.0774,1)" font-size="35.50" fill="#000">b</text>
<path d="M35.8 455.4 L35.8 361.1 A93.3 94.3 0 0 1 129.1 455.4 Z" fill="#c6950d"/>
<text transform="translate(63.62,424.90) scale(1.0018,1)" font-size="21.60" fill="#3b2012">Si</text>
<text transform="translate(52.82,476.10) scale(1.1227,1)" font-size="15.90" font-weight="bold" fill="#111">pMSi</text>
<text transform="translate(126.11,382.00) scale(1.0315,1)" font-size="17.60" fill="#2b2b2b">Lithiation</text>
<polygon points="130.6,404.2 188.8,404.2 188.8,400.0 197.4,407.9 188.8,415.8 188.8,411.6 130.6,411.6" fill="#a2534b"/>
<polygon points="206.6,455.5 206.6,362.6 217.9,358.5 232.3,356.3 246.6,357.6 257.4,362.0 266.4,368.3 271.7,377.3 277.1,386.3 282.5,398.8 291.5,407.8 300.4,420.3 306.7,432.9 308.2,441.9 305.8,450.8 301.3,455.5" fill="#77757b" stroke="#77757b" stroke-width="1.2" stroke-linejoin="round"/>
<path d="M206.6 455.5 L206.6 363 Q216 361.4 226.9 363.8 A93.4 93.4 0 0 1 299.8 455.5 Z" fill="#7b6a3a"/>
<text transform="translate(219.74,424.80) scale(1.0340,1)" font-size="20.80" fill="#2a2010">Li<tspan dy="4.16" font-size="12.48">x</tspan><tspan dy="-4.16">Si</tspan></text>
<text transform="translate(209.41,476.10) scale(1.1230,1)" font-size="15.90" font-weight="bold" fill="#111">Fragile SEI</text>
<text transform="translate(288.55,382.00) scale(1.0048,1)" font-size="17.60" fill="#2b2b2b">Many cycles</text>
<polygon points="308.9,403.6 367.1,403.6 367.1,399.8 375.5,407.6 367.1,415.4 367.1,411.6 308.9,411.6" fill="#a2534b"/>
<g clip-path="url(#clipB1)">
<rect x="389" y="336" width="171" height="126" fill="#d6e8ef"/>
<rect x="389" y="336" width="171" height="126" fill="#000" filter="url(#fIce)"/>
<polygon points="390.4,461.0 390.4,361.5 391.7,358.5 395.7,354.5 404.1,354.9 406.9,357.9 415.3,358.5 423.1,356.0 428.7,358.5 432.1,361.8 437.7,363.5 445.6,365.2 447.8,362.7 456.8,364.6 462.4,369.1 465.8,378.6 468.0,388.7 468.6,395.5 467.4,402.2 465.0,408.2" fill="#747378" stroke="#747378" stroke-width="1" stroke-linejoin="round"/>
<polygon points="390.4,461.0 466.3,410.9 472.5,417.4 477.0,423.0 484.8,427.5 491.0,433.1 491.8,436.5 489.3,439.8 489.5,451.0 488.2,457.7 480.3,459.6 440.0,460.0" fill="#747378" stroke="#747378" stroke-width="1" stroke-linejoin="round"/>
<path d="M390.4 461.3 L390.4 366.6 A90.2 94.9 0 0 1 479.4 461.3 Z" fill="#c6950d"/>
<path d="M438.3 362.9 Q438.8 367 440 370.8 T442.2 379.8 T446.3 386.8" fill="none" stroke="#f4f1ea" stroke-width="1.4"/>
<path d="M445.6 381 Q448.6 380 451.2 380.7 T455.1 383.7 T459 389.3 Q461 391 463.5 391 L468.4 391" fill="none" stroke="#f4f1ea" stroke-width="1.4"/>
<circle cx="405.1" cy="387.8" r="6.6" fill="url(#gLi)"/>
<circle cx="435.4" cy="403.1" r="6.6" fill="url(#gLi)"/>
<circle cx="405.0" cy="427.3" r="6.6" fill="url(#gLi)"/>
<circle cx="455.4" cy="426.4" r="6.6" fill="url(#gLi)"/>
<circle cx="427.7" cy="449.6" r="6.6" fill="url(#gLi)"/>
<circle cx="461.9" cy="449.6" r="6.6" fill="url(#gLi)"/>
<circle cx="508.9" cy="428.6" r="6.6" fill="url(#gLi)"/>
<text transform="translate(393.62,345.90) scale(1.0327,1)" font-size="11.30" font-weight="bold" fill="#808e95">Inhomogeneous SEI</text>
<path d="M430.5 349 L430.5 357.5" stroke="#6c7a80" stroke-width="1.1"/><path d="M428.3 355.2 L430.5 359.2 L432.7 355.2 Z" fill="#6c7a80"/>
<text transform="translate(441.62,359.20) scale(1.0287,1)" font-size="11.40" font-weight="bold" fill="#cf2f3e">Poor Li<tspan dy="-5.02" font-size="6.38">+</tspan><tspan dy="5.02"> /e</tspan><tspan dy="-5.02" font-size="6.38">−</tspan><tspan dy="5.02"> transport</tspan></text>
<path d="M472.9 365.1 L449.9 395.3" stroke="#cf3434" stroke-width="1.5"/>
<path d="M475.1 362.2 L473.6 368.6 L469.9 365.8 Z" fill="#cf3434"/><path d="M447.6 398.2 L449.2 391.8 L452.9 394.6 Z" fill="#e2582a"/>
<path d="M470.7 389.9 L487.5 382.6" stroke="#111" stroke-width="1.4"/><path d="M491.3 380.9 L486 385.6 L484.3 381.5 Z" fill="#111"/>
<text transform="translate(496.33,383.60) scale(1.0317,1)" font-size="11.20" font-weight="bold" fill="#16181c">Cracks</text>
<text transform="translate(478.92,402.50) scale(1.0393,1)" font-size="11.20" font-weight="bold" fill="#16181c">Direct contact</text>
<path d="M479.2 399.4 Q474.2 399.8 473.2 403.4 T469.2 408.6" fill="none" stroke="#111" stroke-width="1.9"/><path d="M465.9 411.3 L468.0 405.9 L471.6 409.4 Z" fill="#111"/>
<circle cx="465.3" cy="409.3" r="1.3" fill="#f7e48a"/>
<text transform="translate(522.14,432.60) scale(1.0525,1)" font-size="12.20" font-weight="bold" fill="#16181c">Li<tspan dy="-5.12" font-size="7.08">+</tspan></text>
</g>
<path d="M35.3 600.6 L35.3 505.4 A95.2 95.2 0 0 1 130.5 600.6 Z" fill="#7d8b3d"/>
<path d="M35.3 600.6 L35.3 525.2 A72 75.4 0 0 1 107.3 600.6 Z" fill="#c8970d"/>
<text transform="translate(48.59,580.50) scale(1.0651,1)" font-size="20.80" fill="#3b2012">Si</text>
<path id="arcB" d="M35.3 518.6 A82 82 0 0 1 117.3 600.6" fill="none"/>
<text font-size="14.4" fill="#1b200c" stroke="#1b200c" stroke-width="0.25"><textPath href="#arcB" startOffset="24" textLength="97" lengthAdjust="spacingAndGlyphs">MgSiN<tspan font-size="9.4" dy="2.6">2</tspan><tspan dy="-2.6"> coating</tspan></textPath></text>
<text transform="translate(37.25,649.60) scale(1.1016,1)" font-size="15.90" font-weight="bold" fill="#111">pMSi@MgSiN<tspan dy="3.82" font-size="10.81">2</tspan></text>
<text transform="translate(128.21,528.60) scale(1.0329,1)" font-size="17.60" fill="#2b2b2b">Lithiation</text>
<polygon points="130.4,547.7 189.3,547.7 189.3,543.7 197.7,551.5 189.3,559.3 189.3,555.3 130.4,555.3" fill="#a2534b"/>
<path d="M207.8 601.5 L207.8 502.2 A97.6 99.3 0 0 1 305.4 601.5 Z" fill="#727177"/>
<path d="M207.8 601.5 L207.8 506.2 A92 95.3 0 0 1 299.8 601.5 Z" fill="#4c8bd2"/>
<path d="M207.8 601.5 L207.8 525.4 A74.3 76.1 0 0 1 282.1 601.5 Z" fill="#7b6a3a"/>
<circle cx="214.0" cy="517.0" r="4.4" fill="#cfe9f1"/>
<circle cx="239.5" cy="520.6" r="4.4" fill="#cfe9f1"/>
<circle cx="257.8" cy="537.2" r="4.4" fill="#cfe9f1"/>
<circle cx="277.4" cy="550.7" r="4.4" fill="#cfe9f1"/>
<circle cx="286.1" cy="590.8" r="4.4" fill="#cfe9f1"/>
<ellipse cx="222.5" cy="513.6" rx="4.3" ry="3.6" fill="url(#pNavy)"/>
<ellipse cx="244.5" cy="527.3" rx="4.3" ry="3.6" fill="url(#pNavy)"/>
<ellipse cx="266.9" cy="536.5" rx="4.3" ry="3.6" fill="url(#pNavy)"/>
<ellipse cx="284.7" cy="566.2" rx="4.3" ry="3.6" fill="url(#pNavy)"/>
<ellipse cx="291.2" cy="580.3" rx="4.3" ry="3.6" fill="url(#pNavy)"/>
<use href="#liN" x="228.2" y="521.8"/>
<use href="#liN" x="254.4" y="528.4"/>
<use href="#liN" x="267.7" y="547.8"/>
<use href="#liN" x="276.2" y="562.0"/>
<use href="#liN" x="282.7" y="576.7"/>
<text transform="translate(218.72,572.40) scale(1.0346,1)" font-size="21.00" fill="#2a2010">Li<tspan dy="4.20" font-size="12.60">x</tspan><tspan dy="-4.20">Si</tspan></text>
<circle cx="200.7" cy="619.4" r="7.6" fill="#cfe9ee"/>
<text transform="translate(213.40,623.20) scale(0.9927,1)" font-size="12.00" font-weight="bold" fill="#1d1d1d">Li<tspan dy="2.16" font-size="7.44">x</tspan><tspan dy="-2.16">Mg</tspan></text>
<ellipse cx="259.9" cy="619.4" rx="8" ry="7.2" fill="url(#pNavy)"/>
<text transform="translate(269.37,623.20) scale(0.9644,1)" font-size="12.00" font-weight="bold" fill="#1d1d1d">Si<tspan dy="2.16" font-size="7.44">3</tspan><tspan dy="-2.16">N</tspan><tspan dy="2.16" font-size="7.44">4</tspan></text>
<use href="#liN" transform="translate(307.2,619.4) scale(1.75)"/>
<text transform="translate(317.82,623.20) scale(0.9700,1)" font-size="12.00" font-weight="bold" fill="#d8606a">Li<tspan dy="2.16" font-size="7.44">3</tspan><tspan dy="-2.16">N</tspan></text>
<text transform="translate(214.71,649.60) scale(1.0793,1)" font-size="15.90" font-weight="bold" fill="#111">Tough SEI</text>
<text transform="translate(288.55,528.60) scale(1.0016,1)" font-size="17.60" fill="#2b2b2b">Many cycles</text>
<polygon points="308.9,547.5 367.1,547.5 367.1,543.8 375.5,551.5 367.1,559.2 367.1,555.5 308.9,555.5" fill="#a2534b"/>
<g clip-path="url(#clipB2)">
<rect x="389" y="476.5" width="171" height="126" fill="#d6e8ef"/>
<rect x="389" y="476.5" width="171" height="126" fill="#000" filter="url(#fIce)"/>
<path d="M389.5 602.5 L389.5 501.9 A96.2 100.6 0 0 1 485.7 602.5 Z" fill="#727177"/>
<path d="M389.5 602.5 L389.5 507.8 A90.1 94.7 0 0 1 479.6 602.5 Z" fill="#a2c5e3"/>
<path d="M389.5 602.5 L389.5 524.6 A73.8 77.9 0 0 1 463.3 602.5 Z" fill="#c6950d"/>
<circle cx="395.7" cy="518.9" r="4.3" fill="#e2f1f8"/>
<circle cx="421.2" cy="521.3" r="4.3" fill="#e2f1f8"/>
<circle cx="440.1" cy="538.1" r="4.3" fill="#e2f1f8"/>
<circle cx="459.9" cy="550.9" r="4.3" fill="#e2f1f8"/>
<circle cx="468.1" cy="592.1" r="4.3" fill="#e2f1f8"/>
<ellipse cx="405.1" cy="514.4" rx="3.9" ry="3.4" fill="#47689f"/>
<ellipse cx="426.1" cy="529.2" rx="3.9" ry="3.4" fill="#47689f"/>
<ellipse cx="448.8" cy="537.4" rx="3.9" ry="3.4" fill="#47689f"/>
<ellipse cx="466.8" cy="567.4" rx="3.9" ry="3.4" fill="#47689f"/>
<ellipse cx="473.0" cy="581.4" rx="3.9" ry="3.4" fill="#47689f"/>
<use href="#liN" x="411.3" y="523.0" opacity="0.92"/>
<use href="#liN" x="436.0" y="529.9" opacity="0.92"/>
<use href="#liN" x="450.8" y="549.0" opacity="0.92"/>
<use href="#liN" x="459.0" y="561.6" opacity="0.92"/>
<use href="#liN" x="465.6" y="576.9" opacity="0.92"/>
<circle cx="399.0" cy="535.3" r="6.6" fill="url(#gLi)"/>
<circle cx="425.8" cy="549.6" r="6.6" fill="url(#gLi)"/>
<circle cx="400.3" cy="572.3" r="6.6" fill="url(#gLi)"/>
<circle cx="444.6" cy="572.3" r="6.6" fill="url(#gLi)"/>
<circle cx="419.6" cy="591.2" r="6.6" fill="url(#gLi)"/>
<circle cx="452.1" cy="593.7" r="6.6" fill="url(#gLi)"/>
<circle cx="509.3" cy="569.7" r="6.6" fill="url(#gLi)"/>
<text transform="translate(394.42,486.90) scale(1.0354,1)" font-size="11.30" font-weight="bold" fill="#808e95">Homogeneous SEI</text>
<path d="M430.9 495 L430.9 504" stroke="#6c7a80" stroke-width="1.1"/><path d="M428.7 501.8 L430.9 505.8 L433.1 501.8 Z" fill="#6c7a80"/>
<text transform="translate(439.91,512.90) scale(1.0314,1)" font-size="11.40" font-weight="bold" fill="#d6404c">Fast Li<tspan dy="-5.02" font-size="6.38">+</tspan><tspan dy="5.02"> /e</tspan><tspan dy="-5.02" font-size="6.38">−</tspan><tspan dy="5.02"> transport</tspan></text>
<path d="M469.4 523.6 L441.3 556.0" stroke="#cf3434" stroke-width="1.5"/>
<path d="M471.6 521.0 L469.7 527.3 L466.1 524.2 Z" fill="#cf3434"/><path d="M439.1 558.6 L441.0 552.3 L444.6 555.4 Z" fill="#e2582a"/>
<text transform="translate(478.93,546.90) scale(1.0339,1)" font-size="11.20" font-weight="bold" fill="#16181c">Direct contact</text>
<path d="M494.4 555 Q492.5 560.6 486 561.2 T476.4 564" fill="none" stroke="#111" stroke-width="1.8"/><path d="M471.9 566.3 L476.3 561.4 L478.2 566.0 Z" fill="#111"/>
<circle cx="484.6" cy="561.2" r="1.5" fill="#e04050" opacity="0.8"/>
<text transform="translate(524.74,573.20) scale(1.0525,1)" font-size="12.20" font-weight="bold" fill="#16181c">Li<tspan dy="-5.12" font-size="7.08">+</tspan></text>
</g>
</g>
<!-- ================= panel c ================= -->
<g id="panel-c">
<text transform="translate(565.58,342.60) scale(1.0566,1)" font-size="36.00" fill="#000">c</text>
<text transform="translate(628.31,615.50) scale(1.0983,1)" font-size="16.00" fill="#222">0</text>
<text transform="translate(609.94,573.03) scale(1.0531,1)" font-size="16.00" fill="#222">600</text>
<text transform="translate(600.41,530.57) scale(1.0578,1)" font-size="16.00" fill="#222">1200</text>
<text transform="translate(600.41,488.10) scale(1.0578,1)" font-size="16.00" fill="#222">1800</text>
<text transform="translate(600.86,445.63) scale(1.0450,1)" font-size="16.00" fill="#222">2400</text>
<text transform="translate(601.07,403.17) scale(1.0390,1)" font-size="16.00" fill="#222">3000</text>
<text transform="translate(601.07,360.70) scale(1.0390,1)" font-size="16.00" fill="#222">3600</text>
<text transform="translate(645.01,628.90) scale(1.0715,1)" font-size="16.40" fill="#222">0</text>
<text transform="translate(697.38,628.90) scale(1.0442,1)" font-size="16.40" fill="#222">100</text>
<text transform="translate(759.91,628.90) scale(1.0271,1)" font-size="16.40" fill="#222">200</text>
<text transform="translate(822.20,628.90) scale(1.0193,1)" font-size="16.40" fill="#222">300</text>
<text transform="translate(884.54,628.90) scale(1.0097,1)" font-size="16.40" fill="#222">400</text>
<text transform="translate(946.33,628.90) scale(1.0205,1)" font-size="16.40" fill="#222">500</text>
<g transform="translate(593,601.3) rotate(-90)"><text transform="translate(-0.94,0.00) scale(0.9886,1)" font-size="21.00" fill="#1c1c1c">Specific Capacity (mAh g<tspan dy="-8.40" font-size="12.60">−1</tspan><tspan dy="8.40">)</tspan></text></g>
<text transform="translate(733.30,660.60) scale(0.9687,1)" font-size="22.40" fill="#1c1c1c">Cycle Number</text>
<g clip-path="url(#clipPlot)">
<polyline points="650.2,364.2 650.6,383.3 651.0,388.3 651.5,468.2 652.1,482.4 653.3,486.6" fill="none" stroke="#111" stroke-width="1.6"/>
<polyline points="650.2,402.4 651.5,408.8 653.3,411.6 656.4,410.9 657.0,457.6 658.3,475.3 659.5,493.7 661.4,511.8" fill="none" stroke="#d81e26" stroke-width="1.6"/>
<polyline points="653.3,486.6 655.8,496.6 658.9,507.2 662.0,514.6 665.1,516.4 669.5,512.8 676.3,505.0 685.6,498.7 694.3,495.8 702.4,498.7 709.2,503.6 717.9,511.4 727.2,519.9 739.0,531.2 748.9,539.7 755.8,545.0 762.6,545.3 770.7,551.1 778.7,555.3 792.4,560.3 804.8,564.5 809.8,565.1 814.7,563.1 823.4,566.6 835.8,570.2 854.5,573.7 870.0,575.8 876.2,576.0 883.0,574.1 891.7,575.8 904.1,578.7 920.9,581.1 935.2,582.9 947.6,584.3 960.0,585.5" fill="none" stroke="#0d0d0d" stroke-width="7.2" stroke-linejoin="round" stroke-linecap="round"/>
<polyline points="661.4,511.8 664.5,503.6 669.5,496.6 679.4,493.4 685.6,490.9 691.2,487.7 699.3,491.6 706.7,494.4 714.8,498.0 722.9,501.2 739.6,506.1 755.1,510.7 765.7,513.9 776.9,516.4 788.7,518.5 804.8,521.3 818.5,523.3 822.8,525.6 825.9,522.0 829.6,525.9 833.4,527.7 842.0,530.5 855.1,533.4 866.9,534.8 879.3,536.9 888.0,538.7 899.2,538.3 910.3,540.8 920.9,542.9 932.1,544.0 941.4,545.0 950.7,545.7 960.0,546.5" fill="none" stroke="#f6a0a4" stroke-opacity="0.55" stroke-width="9" stroke-linejoin="round" stroke-linecap="round"/>
<polyline points="661.4,511.8 664.5,503.6 669.5,496.6 679.4,493.4 685.6,490.9 691.2,487.7 699.3,491.6 706.7,494.4 714.8,498.0 722.9,501.2 739.6,506.1 755.1,510.7 765.7,513.9 776.9,516.4 788.7,518.5 804.8,521.3 818.5,523.3 822.8,525.6 825.9,522.0 829.6,525.9 833.4,527.7 842.0,530.5 855.1,533.4 866.9,534.8 879.3,536.9 888.0,538.7 899.2,538.3 910.3,540.8 920.9,542.9 932.1,544.0 941.4,545.0 950.7,545.7 960.0,546.5" fill="none" stroke="#e3151c" stroke-width="6.6" stroke-linejoin="round" stroke-linecap="round"/>
</g>
<circle cx="650.2" cy="364.2" r="2.9" fill="#0d0d0d"/>
<circle cx="650.5" cy="382.6" r="2.9" fill="#0d0d0d"/>
<circle cx="650.8" cy="388.3" r="2.9" fill="#0d0d0d"/>
<circle cx="651.1" cy="391.8" r="2.9" fill="#0d0d0d"/>
<circle cx="651.5" cy="468.2" r="2.9" fill="#0d0d0d"/>
<circle cx="652.1" cy="482.4" r="2.9" fill="#0d0d0d"/>
<circle cx="652.7" cy="485.2" r="2.9" fill="#0d0d0d"/>
<circle cx="650.3" cy="393.2" r="2.5" fill="#d8dde0" stroke="#555" stroke-width="1"/>
<circle cx="650.2" cy="402.4" r="2.9" fill="#e01820"/>
<circle cx="651.0" cy="408.1" r="2.9" fill="#e01820"/>
<circle cx="652.1" cy="410.9" r="2.9" fill="#e01820"/>
<circle cx="653.9" cy="412.3" r="2.9" fill="#e01820"/>
<circle cx="656.1" cy="410.9" r="2.9" fill="#e01820"/>
<circle cx="656.7" cy="456.9" r="2.9" fill="#e01820"/>
<circle cx="657.2" cy="464.0" r="2.9" fill="#e01820"/>
<circle cx="657.7" cy="471.1" r="2.9" fill="#e01820"/>
<circle cx="658.0" cy="478.2" r="2.9" fill="#e01820"/>
<circle cx="658.5" cy="485.2" r="2.9" fill="#e01820"/>
<circle cx="658.9" cy="492.3" r="2.9" fill="#e01820"/>
<circle cx="659.4" cy="498.0" r="2.9" fill="#e01820"/>
<circle cx="650.2" cy="431.4" r="2.4" fill="#fbecec" stroke="#e0545a" stroke-width="1"/>
<circle cx="650.6" cy="418.7" r="2.2" fill="#fbecec" stroke="#e0545a" stroke-width="1"/>
<rect x="644" y="355" width="316.4" height="254.8" fill="none" stroke="#151515" stroke-width="2"/>
<path d="M644 567.3 h5 M644 524.9 h5 M644 482.4 h5 M644 439.9 h5 M644 397.5 h5 M649.6 609.8 v-5.4 M711.7 609.8 v-5.4 M773.8 609.8 v-5.4 M835.8 609.8 v-5.4 M897.9 609.8 v-5.4" stroke="#151515" stroke-width="1.8" fill="none"/>
<path d="M760.2 365 H798.2 M802 365 H840.3" stroke="#111" stroke-width="1.6"/>
<circle cx="778.8" cy="365" r="2.5" fill="#fff" stroke="#333" stroke-width="1"/><circle cx="820.9" cy="365" r="2.8" fill="#0d0d0d"/>
<text transform="translate(843.76,371.20) scale(1.0738,1)" font-size="16.40" fill="#151515">pMSi</text>
<path d="M760.2 385.8 H798.2 M802 385.8 H840.3" stroke="#d8282e" stroke-width="1.6"/>
<circle cx="778.8" cy="385.8" r="2.5" fill="#fff6f4" stroke="#e0646a" stroke-width="1"/><circle cx="820.9" cy="385.8" r="2.8" fill="#d81e26"/>
<text transform="translate(843.81,392.30) scale(1.0296,1)" font-size="16.40" fill="#d0353f">pMSi@MgSiN<tspan dy="3.28" font-size="11.15">2</tspan></text>
<path d="M661.4 407.2 H679" stroke="#111" stroke-width="1.6"/><path d="M687 407.2 L677.6 403.9 V410.5 Z" fill="#111"/>
<text transform="translate(687.95,413.20) scale(1.0035,1)" font-size="16.60" fill="#1a1a1a">0.1 A g<tspan dy="-6.97" font-size="11.29">−1</tspan></text>
<text transform="translate(794.93,497.60) scale(1.0053,1)" font-size="16.60" fill="#1a1a1a">5.0 A g<tspan dy="-6.97" font-size="11.29">−1</tspan></text>
<text transform="translate(864.47,526.60) scale(1.0078,1)" font-size="16.60" fill="#cf4450">894 mAh g<tspan dy="-6.97" font-size="11.29">−1</tspan></text>
<text transform="translate(864.56,566.20) scale(1.0068,1)" font-size="16.60" fill="#1a1a1a">344 mAh g<tspan dy="-6.97" font-size="11.29">−1</tspan></text>
<path d="M957.8 541.6 L945.5 535.4" stroke="#cf3434" stroke-width="1.3"/><path d="M940.6 533 L948.2 533.6 L946 538 Z" fill="#cf3434"/>
<path d="M957.8 581.2 L945.5 575" stroke="#111" stroke-width="1.3"/><path d="M940.6 572.6 L948.2 573.2 L946 577.6 Z" fill="#111"/>
</g>
</svg></body></html>
